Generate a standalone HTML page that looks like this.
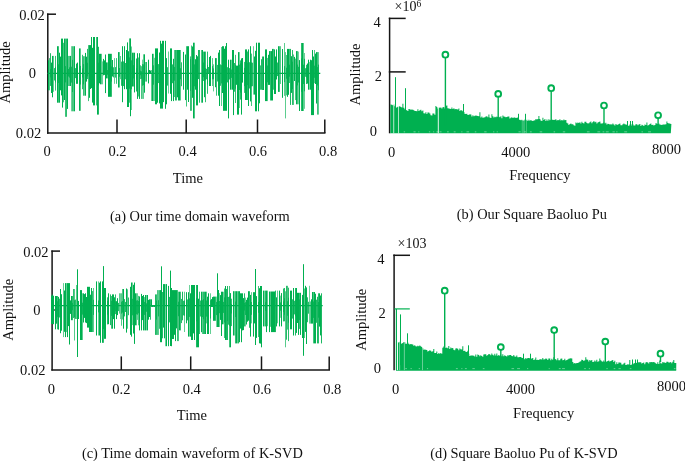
<!DOCTYPE html>
<html><head><meta charset="utf-8"><style>
html,body{margin:0;padding:0;background:#fff;}
svg{display:block;will-change:transform;}
text{font-family:"Liberation Serif",serif;fill:#111;}
</style></head><body>
<svg width="685" height="461" viewBox="0 0 685 461">
<rect width="685" height="461" fill="#fff"/>
<line x1="47.80" y1="13.50" x2="47.80" y2="133.80" stroke="#161616" stroke-width="1.5"/>
<line x1="47.00" y1="14.20" x2="56.00" y2="14.20" stroke="#161616" stroke-width="1.5"/>
<line x1="47.00" y1="133.10" x2="325.50" y2="133.10" stroke="#161616" stroke-width="1.5"/>
<line x1="117.00" y1="119.50" x2="117.00" y2="133.00" stroke="#161616" stroke-width="1.5"/>
<line x1="186.20" y1="119.50" x2="186.20" y2="133.00" stroke="#161616" stroke-width="1.5"/>
<line x1="257.50" y1="119.50" x2="257.50" y2="133.00" stroke="#161616" stroke-width="1.5"/>
<line x1="324.80" y1="119.50" x2="324.80" y2="133.00" stroke="#161616" stroke-width="1.5"/>
<line x1="52.10" y1="250.50" x2="52.10" y2="370.60" stroke="#161616" stroke-width="1.5"/>
<line x1="51.30" y1="251.10" x2="60.00" y2="251.10" stroke="#161616" stroke-width="1.5"/>
<line x1="51.30" y1="370.00" x2="330.00" y2="370.00" stroke="#161616" stroke-width="1.5"/>
<line x1="121.30" y1="356.40" x2="121.30" y2="370.00" stroke="#161616" stroke-width="1.5"/>
<line x1="190.70" y1="356.40" x2="190.70" y2="370.00" stroke="#161616" stroke-width="1.5"/>
<line x1="261.50" y1="356.40" x2="261.50" y2="370.00" stroke="#161616" stroke-width="1.5"/>
<line x1="329.20" y1="356.40" x2="329.20" y2="370.00" stroke="#161616" stroke-width="1.5"/>
<line x1="389.60" y1="17.70" x2="389.60" y2="133.30" stroke="#161616" stroke-width="1.5"/>
<line x1="388.80" y1="18.40" x2="405.70" y2="18.40" stroke="#161616" stroke-width="1.5"/>
<line x1="388.80" y1="71.90" x2="405.70" y2="71.90" stroke="#161616" stroke-width="1.5"/>
<line x1="394.10" y1="254.60" x2="394.10" y2="370.30" stroke="#161616" stroke-width="1.5"/>
<line x1="393.30" y1="255.30" x2="410.00" y2="255.30" stroke="#161616" stroke-width="1.5"/>
<line x1="394.30" y1="308.90" x2="409.80" y2="308.90" stroke="#00b050" stroke-width="1.2"/>
<line x1="396.40" y1="308.90" x2="396.40" y2="370.00" stroke="#00b050" stroke-width="1.2"/>
<line x1="396.00" y1="370.10" x2="676.20" y2="370.10" stroke="#00b050" stroke-width="1.2"/>
<rect x="48" y="60.3" width="1" height="30.0" fill="#00b050" fill-opacity="1.00"/>
<rect x="48" y="67.3" width="1" height="12.7" fill="#00b050" fill-opacity="0.85"/>
<rect x="49" y="58.1" width="1" height="32.2" fill="#00b050" fill-opacity="0.70"/>
<rect x="50" y="53.2" width="1" height="32.7" fill="#00b050" fill-opacity="0.87"/>
<rect x="50" y="69.1" width="1" height="8.3" fill="#00b050" fill-opacity="0.85"/>
<rect x="51" y="62.6" width="1" height="30.4" fill="#00b050" fill-opacity="1.00"/>
<rect x="51" y="69.2" width="1" height="9.3" fill="#00b050" fill-opacity="0.85"/>
<rect x="52" y="55.9" width="1" height="41.4" fill="#00b050" fill-opacity="1.00"/>
<rect x="52" y="67.4" width="1" height="14.0" fill="#00b050" fill-opacity="0.85"/>
<rect x="53" y="55.9" width="1" height="35.9" fill="#00b050" fill-opacity="0.62"/>
<rect x="54" y="68.1" width="1" height="12.4" fill="#00b050" fill-opacity="0.85"/>
<rect x="55" y="55.9" width="1" height="34.7" fill="#00b050" fill-opacity="0.78"/>
<rect x="55" y="66.8" width="1" height="15.6" fill="#00b050" fill-opacity="0.85"/>
<rect x="57" y="46.2" width="1" height="56.5" fill="#00b050" fill-opacity="1.00"/>
<rect x="58" y="46.2" width="1" height="56.5" fill="#00b050" fill-opacity="0.79"/>
<rect x="58" y="64.3" width="1" height="18.7" fill="#00b050" fill-opacity="0.85"/>
<rect x="59" y="52.7" width="1" height="50.0" fill="#00b050" fill-opacity="1.00"/>
<rect x="59" y="67.5" width="1" height="12.0" fill="#00b050" fill-opacity="0.85"/>
<rect x="60" y="56.6" width="1" height="33.7" fill="#00b050" fill-opacity="1.00"/>
<rect x="60" y="62.8" width="1" height="18.9" fill="#00b050" fill-opacity="0.85"/>
<rect x="61" y="38.6" width="1" height="56.8" fill="#00b050" fill-opacity="1.00"/>
<rect x="62" y="38.6" width="1" height="69.0" fill="#00b050" fill-opacity="1.00"/>
<rect x="63" y="42.8" width="1" height="59.5" fill="#00b050" fill-opacity="0.73"/>
<rect x="64" y="38.6" width="1" height="61.4" fill="#00b050" fill-opacity="1.00"/>
<rect x="64" y="61.3" width="1" height="23.8" fill="#00b050" fill-opacity="0.85"/>
<rect x="65" y="38.6" width="1" height="78.2" fill="#00b050" fill-opacity="0.76"/>
<rect x="65" y="66.1" width="1" height="16.3" fill="#00b050" fill-opacity="0.85"/>
<rect x="66" y="38.6" width="1" height="78.2" fill="#00b050" fill-opacity="0.83"/>
<rect x="67" y="38.6" width="1" height="70.3" fill="#00b050" fill-opacity="1.00"/>
<rect x="67" y="66.2" width="1" height="16.0" fill="#00b050" fill-opacity="0.85"/>
<rect x="68" y="55.9" width="1" height="30.1" fill="#00b050" fill-opacity="0.67"/>
<rect x="68" y="69.0" width="1" height="7.5" fill="#00b050" fill-opacity="0.85"/>
<rect x="69" y="55.9" width="1" height="30.1" fill="#00b050" fill-opacity="0.71"/>
<rect x="69" y="67.3" width="1" height="10.3" fill="#00b050" fill-opacity="0.85"/>
<rect x="70" y="55.9" width="1" height="30.1" fill="#00b050" fill-opacity="1.00"/>
<rect x="70" y="65.1" width="1" height="14.1" fill="#00b050" fill-opacity="0.85"/>
<rect x="71" y="46.2" width="1" height="65.1" fill="#00b050" fill-opacity="0.56"/>
<rect x="71" y="66.7" width="1" height="15.9" fill="#00b050" fill-opacity="0.85"/>
<rect x="72" y="46.2" width="1" height="65.1" fill="#00b050" fill-opacity="0.74"/>
<rect x="72" y="59.9" width="1" height="32.1" fill="#00b050" fill-opacity="0.85"/>
<rect x="73" y="46.2" width="1" height="65.1" fill="#00b050" fill-opacity="0.69"/>
<rect x="74" y="46.2" width="1" height="65.1" fill="#00b050" fill-opacity="1.00"/>
<rect x="75" y="68.1" width="1" height="10.0" fill="#00b050" fill-opacity="0.85"/>
<rect x="76" y="63.6" width="1" height="20.2" fill="#00b050" fill-opacity="1.00"/>
<rect x="76" y="68.0" width="1" height="10.2" fill="#00b050" fill-opacity="0.85"/>
<rect x="77" y="62.6" width="1" height="21.2" fill="#00b050" fill-opacity="1.00"/>
<rect x="79" y="48.4" width="1" height="62.4" fill="#00b050" fill-opacity="1.00"/>
<rect x="80" y="48.4" width="1" height="62.4" fill="#00b050" fill-opacity="0.65"/>
<rect x="80" y="65.9" width="1" height="18.6" fill="#00b050" fill-opacity="0.85"/>
<rect x="82" y="54.8" width="1" height="34.4" fill="#00b050" fill-opacity="0.82"/>
<rect x="82" y="68.4" width="1" height="9.1" fill="#00b050" fill-opacity="0.85"/>
<rect x="83" y="56.2" width="1" height="39.5" fill="#00b050" fill-opacity="0.79"/>
<rect x="83" y="64.1" width="1" height="20.3" fill="#00b050" fill-opacity="0.85"/>
<rect x="84" y="56.2" width="1" height="39.5" fill="#00b050" fill-opacity="0.62"/>
<rect x="85" y="52.9" width="1" height="42.8" fill="#00b050" fill-opacity="1.00"/>
<rect x="86" y="56.7" width="1" height="24.9" fill="#00b050" fill-opacity="1.00"/>
<rect x="86" y="69.4" width="1" height="5.6" fill="#00b050" fill-opacity="0.85"/>
<rect x="87" y="48.9" width="1" height="30.1" fill="#00b050" fill-opacity="0.82"/>
<rect x="87" y="62.8" width="1" height="13.6" fill="#00b050" fill-opacity="0.85"/>
<rect x="88" y="45.1" width="1" height="56.0" fill="#00b050" fill-opacity="0.75"/>
<rect x="89" y="45.1" width="1" height="52.7" fill="#00b050" fill-opacity="1.00"/>
<rect x="90" y="45.1" width="1" height="43.9" fill="#00b050" fill-opacity="1.00"/>
<rect x="91" y="37.0" width="1" height="51.1" fill="#00b050" fill-opacity="1.00"/>
<rect x="92" y="47.8" width="1" height="54.8" fill="#00b050" fill-opacity="1.00"/>
<rect x="92" y="60.8" width="1" height="23.5" fill="#00b050" fill-opacity="0.85"/>
<rect x="93" y="37.0" width="1" height="68.4" fill="#00b050" fill-opacity="1.00"/>
<rect x="94" y="37.0" width="1" height="68.4" fill="#00b050" fill-opacity="1.00"/>
<rect x="94" y="56.1" width="1" height="32.4" fill="#00b050" fill-opacity="0.85"/>
<rect x="96" y="37.0" width="1" height="68.4" fill="#00b050" fill-opacity="0.74"/>
<rect x="97" y="37.0" width="1" height="77.6" fill="#00b050" fill-opacity="1.00"/>
<rect x="97" y="65.2" width="1" height="17.4" fill="#00b050" fill-opacity="0.85"/>
<rect x="98" y="46.8" width="1" height="67.8" fill="#00b050" fill-opacity="0.88"/>
<rect x="98" y="62.7" width="1" height="22.7" fill="#00b050" fill-opacity="0.85"/>
<rect x="99" y="53.8" width="1" height="29.5" fill="#00b050" fill-opacity="1.00"/>
<rect x="99" y="66.2" width="1" height="11.1" fill="#00b050" fill-opacity="0.85"/>
<rect x="100" y="53.8" width="1" height="30.5" fill="#00b050" fill-opacity="1.00"/>
<rect x="100" y="69.0" width="1" height="6.8" fill="#00b050" fill-opacity="0.85"/>
<rect x="101" y="53.8" width="1" height="30.5" fill="#00b050" fill-opacity="0.65"/>
<rect x="102" y="61.4" width="1" height="22.9" fill="#00b050" fill-opacity="0.58"/>
<rect x="103" y="58.9" width="1" height="16.4" fill="#00b050" fill-opacity="1.00"/>
<rect x="103" y="66.0" width="1" height="8.7" fill="#00b050" fill-opacity="0.85"/>
<rect x="104" y="60.4" width="1" height="14.5" fill="#00b050" fill-opacity="1.00"/>
<rect x="105" y="54.5" width="1" height="38.6" fill="#00b050" fill-opacity="1.00"/>
<rect x="105" y="68.1" width="1" height="11.2" fill="#00b050" fill-opacity="0.85"/>
<rect x="106" y="62.4" width="1" height="16.0" fill="#00b050" fill-opacity="1.00"/>
<rect x="107" y="62.4" width="1" height="16.0" fill="#00b050" fill-opacity="0.71"/>
<rect x="107" y="70.0" width="1" height="4.8" fill="#00b050" fill-opacity="0.85"/>
<rect x="108" y="53.8" width="1" height="43.0" fill="#00b050" fill-opacity="1.00"/>
<rect x="109" y="53.8" width="1" height="43.0" fill="#00b050" fill-opacity="1.00"/>
<rect x="109" y="64.6" width="1" height="19.3" fill="#00b050" fill-opacity="0.85"/>
<rect x="110" y="53.8" width="1" height="43.0" fill="#00b050" fill-opacity="1.00"/>
<rect x="110" y="66.3" width="1" height="15.4" fill="#00b050" fill-opacity="0.85"/>
<rect x="111" y="53.8" width="1" height="43.0" fill="#00b050" fill-opacity="0.81"/>
<rect x="111" y="66.5" width="1" height="15.0" fill="#00b050" fill-opacity="0.85"/>
<rect x="112" y="60.0" width="1" height="16.5" fill="#00b050" fill-opacity="1.00"/>
<rect x="113" y="67.3" width="1" height="10.1" fill="#00b050" fill-opacity="0.85"/>
<rect x="114" y="58.1" width="1" height="25.7" fill="#00b050" fill-opacity="0.61"/>
<rect x="115" y="67.1" width="1" height="10.5" fill="#00b050" fill-opacity="0.85"/>
<rect x="116" y="58.1" width="1" height="25.7" fill="#00b050" fill-opacity="0.76"/>
<rect x="118" y="52.1" width="1" height="35.4" fill="#00b050" fill-opacity="1.00"/>
<rect x="119" y="52.1" width="1" height="35.4" fill="#00b050" fill-opacity="0.67"/>
<rect x="119" y="68.0" width="1" height="8.8" fill="#00b050" fill-opacity="0.85"/>
<rect x="120" y="56.0" width="1" height="23.2" fill="#00b050" fill-opacity="0.64"/>
<rect x="121" y="61.6" width="1" height="24.2" fill="#00b050" fill-opacity="0.85"/>
<rect x="122" y="46.2" width="1" height="56.0" fill="#00b050" fill-opacity="1.00"/>
<rect x="123" y="61.4" width="1" height="24.7" fill="#00b050" fill-opacity="0.85"/>
<rect x="124" y="46.2" width="1" height="43.0" fill="#00b050" fill-opacity="1.00"/>
<rect x="125" y="63.0" width="1" height="16.3" fill="#00b050" fill-opacity="0.85"/>
<rect x="126" y="50.0" width="1" height="39.2" fill="#00b050" fill-opacity="1.00"/>
<rect x="127" y="42.4" width="1" height="64.6" fill="#00b050" fill-opacity="1.00"/>
<rect x="128" y="51.2" width="1" height="55.8" fill="#00b050" fill-opacity="1.00"/>
<rect x="128" y="60.2" width="1" height="25.8" fill="#00b050" fill-opacity="0.85"/>
<rect x="129" y="38.4" width="1" height="64.3" fill="#00b050" fill-opacity="0.74"/>
<rect x="129" y="57.4" width="1" height="31.3" fill="#00b050" fill-opacity="0.85"/>
<rect x="130" y="38.4" width="1" height="77.8" fill="#00b050" fill-opacity="1.00"/>
<rect x="130" y="57.9" width="1" height="34.4" fill="#00b050" fill-opacity="0.85"/>
<rect x="131" y="46.5" width="1" height="63.5" fill="#00b050" fill-opacity="0.60"/>
<rect x="131" y="60.3" width="1" height="28.9" fill="#00b050" fill-opacity="0.85"/>
<rect x="132" y="52.7" width="1" height="33.8" fill="#00b050" fill-opacity="1.00"/>
<rect x="132" y="66.4" width="1" height="11.2" fill="#00b050" fill-opacity="0.85"/>
<rect x="133" y="52.7" width="1" height="33.8" fill="#00b050" fill-opacity="0.79"/>
<rect x="133" y="65.2" width="1" height="13.3" fill="#00b050" fill-opacity="0.85"/>
<rect x="134" y="52.7" width="1" height="39.7" fill="#00b050" fill-opacity="1.00"/>
<rect x="136" y="58.5" width="1" height="33.0" fill="#00b050" fill-opacity="0.90"/>
<rect x="136" y="68.3" width="1" height="11.5" fill="#00b050" fill-opacity="0.85"/>
<rect x="137" y="53.2" width="1" height="45.7" fill="#00b050" fill-opacity="1.00"/>
<rect x="137" y="66.7" width="1" height="15.0" fill="#00b050" fill-opacity="0.85"/>
<rect x="138" y="57.5" width="1" height="39.0" fill="#00b050" fill-opacity="0.72"/>
<rect x="139" y="53.2" width="1" height="45.7" fill="#00b050" fill-opacity="1.00"/>
<rect x="140" y="65.3" width="1" height="13.8" fill="#00b050" fill-opacity="0.76"/>
<rect x="140" y="70.7" width="1" height="4.5" fill="#00b050" fill-opacity="0.85"/>
<rect x="141" y="66.2" width="1" height="32.7" fill="#00b050" fill-opacity="0.72"/>
<rect x="141" y="71.3" width="1" height="7.5" fill="#00b050" fill-opacity="0.85"/>
<rect x="142" y="59.6" width="1" height="39.3" fill="#00b050" fill-opacity="0.56"/>
<rect x="142" y="64.1" width="1" height="21.6" fill="#00b050" fill-opacity="0.85"/>
<rect x="143" y="54.3" width="1" height="44.6" fill="#00b050" fill-opacity="0.62"/>
<rect x="143" y="64.4" width="1" height="20.8" fill="#00b050" fill-opacity="0.85"/>
<rect x="144" y="54.3" width="1" height="38.4" fill="#00b050" fill-opacity="1.00"/>
<rect x="144" y="65.3" width="1" height="18.8" fill="#00b050" fill-opacity="0.85"/>
<rect x="145" y="62.0" width="1" height="19.6" fill="#00b050" fill-opacity="0.64"/>
<rect x="146" y="62.0" width="1" height="19.6" fill="#00b050" fill-opacity="0.85"/>
<rect x="146" y="70.3" width="1" height="5.2" fill="#00b050" fill-opacity="0.85"/>
<rect x="148" y="59.7" width="1" height="23.7" fill="#00b050" fill-opacity="1.00"/>
<rect x="148" y="67.5" width="1" height="11.3" fill="#00b050" fill-opacity="0.85"/>
<rect x="149" y="70.0" width="1" height="4.0" fill="#00b050" fill-opacity="1.00"/>
<rect x="150" y="70.5" width="1" height="3.5" fill="#00b050" fill-opacity="1.00"/>
<rect x="150" y="72.5" width="1" height="1.0" fill="#00b050" fill-opacity="0.85"/>
<rect x="151" y="70.0" width="1" height="31.0" fill="#00b050" fill-opacity="0.63"/>
<rect x="152" y="53.8" width="1" height="47.2" fill="#00b050" fill-opacity="1.00"/>
<rect x="152" y="68.8" width="1" height="10.9" fill="#00b050" fill-opacity="0.85"/>
<rect x="153" y="53.8" width="1" height="47.2" fill="#00b050" fill-opacity="0.63"/>
<rect x="153" y="65.3" width="1" height="19.4" fill="#00b050" fill-opacity="0.85"/>
<rect x="154" y="57.8" width="1" height="43.2" fill="#00b050" fill-opacity="0.59"/>
<rect x="155" y="48.4" width="1" height="55.9" fill="#00b050" fill-opacity="1.00"/>
<rect x="155" y="66.6" width="1" height="15.1" fill="#00b050" fill-opacity="0.85"/>
<rect x="156" y="48.4" width="1" height="55.9" fill="#00b050" fill-opacity="1.00"/>
<rect x="157" y="48.4" width="1" height="54.3" fill="#00b050" fill-opacity="1.00"/>
<rect x="158" y="64.1" width="1" height="19.0" fill="#00b050" fill-opacity="0.85"/>
<rect x="159" y="52.5" width="1" height="50.9" fill="#00b050" fill-opacity="1.00"/>
<rect x="160" y="40.8" width="1" height="67.8" fill="#00b050" fill-opacity="1.00"/>
<rect x="160" y="65.5" width="1" height="16.2" fill="#00b050" fill-opacity="0.85"/>
<rect x="161" y="43.6" width="1" height="65.0" fill="#00b050" fill-opacity="1.00"/>
<rect x="162" y="40.8" width="1" height="67.8" fill="#00b050" fill-opacity="1.00"/>
<rect x="162" y="60.6" width="1" height="26.5" fill="#00b050" fill-opacity="0.85"/>
<rect x="163" y="40.8" width="1" height="61.3" fill="#00b050" fill-opacity="1.00"/>
<rect x="165" y="40.8" width="1" height="68.0" fill="#00b050" fill-opacity="1.00"/>
<rect x="166" y="58.1" width="1" height="46.2" fill="#00b050" fill-opacity="1.00"/>
<rect x="166" y="69.4" width="1" height="12.0" fill="#00b050" fill-opacity="0.85"/>
<rect x="167" y="67.2" width="1" height="18.4" fill="#00b050" fill-opacity="0.85"/>
<rect x="168" y="51.5" width="1" height="42.0" fill="#00b050" fill-opacity="0.60"/>
<rect x="170" y="48.4" width="1" height="45.4" fill="#00b050" fill-opacity="1.00"/>
<rect x="171" y="48.4" width="1" height="52.7" fill="#00b050" fill-opacity="1.00"/>
<rect x="171" y="63.0" width="1" height="21.7" fill="#00b050" fill-opacity="0.85"/>
<rect x="172" y="64.4" width="1" height="18.8" fill="#00b050" fill-opacity="0.85"/>
<rect x="173" y="58.8" width="1" height="42.3" fill="#00b050" fill-opacity="1.00"/>
<rect x="174" y="50.0" width="1" height="47.0" fill="#00b050" fill-opacity="0.66"/>
<rect x="174" y="66.9" width="1" height="13.8" fill="#00b050" fill-opacity="0.85"/>
<rect x="175" y="50.0" width="1" height="50.5" fill="#00b050" fill-opacity="0.88"/>
<rect x="176" y="50.0" width="1" height="50.5" fill="#00b050" fill-opacity="0.80"/>
<rect x="177" y="50.0" width="1" height="47.3" fill="#00b050" fill-opacity="1.00"/>
<rect x="177" y="66.1" width="1" height="15.7" fill="#00b050" fill-opacity="0.85"/>
<rect x="178" y="50.0" width="1" height="50.5" fill="#00b050" fill-opacity="1.00"/>
<rect x="178" y="62.9" width="1" height="22.4" fill="#00b050" fill-opacity="0.85"/>
<rect x="179" y="50.0" width="1" height="50.5" fill="#00b050" fill-opacity="1.00"/>
<rect x="179" y="63.4" width="1" height="21.4" fill="#00b050" fill-opacity="0.85"/>
<rect x="180" y="50.0" width="1" height="50.5" fill="#00b050" fill-opacity="0.66"/>
<rect x="180" y="68.2" width="1" height="11.1" fill="#00b050" fill-opacity="0.85"/>
<rect x="181" y="62.3" width="1" height="23.9" fill="#00b050" fill-opacity="0.85"/>
<rect x="183" y="51.9" width="1" height="37.8" fill="#00b050" fill-opacity="1.00"/>
<rect x="185" y="54.5" width="1" height="45.6" fill="#00b050" fill-opacity="1.00"/>
<rect x="185" y="59.9" width="1" height="29.8" fill="#00b050" fill-opacity="0.85"/>
<rect x="186" y="46.2" width="1" height="60.3" fill="#00b050" fill-opacity="0.75"/>
<rect x="187" y="46.2" width="1" height="43.5" fill="#00b050" fill-opacity="1.00"/>
<rect x="187" y="65.7" width="1" height="15.6" fill="#00b050" fill-opacity="0.85"/>
<rect x="188" y="46.2" width="1" height="55.8" fill="#00b050" fill-opacity="1.00"/>
<rect x="188" y="67.3" width="1" height="12.4" fill="#00b050" fill-opacity="0.85"/>
<rect x="190" y="56.4" width="1" height="54.4" fill="#00b050" fill-opacity="0.80"/>
<rect x="190" y="59.1" width="1" height="31.7" fill="#00b050" fill-opacity="0.85"/>
<rect x="191" y="45.5" width="1" height="65.3" fill="#00b050" fill-opacity="0.74"/>
<rect x="192" y="46.5" width="1" height="51.3" fill="#00b050" fill-opacity="1.00"/>
<rect x="193" y="42.7" width="1" height="75.7" fill="#00b050" fill-opacity="1.00"/>
<rect x="194" y="42.7" width="1" height="75.7" fill="#00b050" fill-opacity="0.71"/>
<rect x="194" y="64.4" width="1" height="21.9" fill="#00b050" fill-opacity="0.85"/>
<rect x="195" y="59.2" width="1" height="30.5" fill="#00b050" fill-opacity="1.00"/>
<rect x="196" y="55.0" width="1" height="50.4" fill="#00b050" fill-opacity="1.00"/>
<rect x="196" y="64.6" width="1" height="20.3" fill="#00b050" fill-opacity="0.85"/>
<rect x="197" y="56.3" width="1" height="49.1" fill="#00b050" fill-opacity="1.00"/>
<rect x="197" y="64.9" width="1" height="19.7" fill="#00b050" fill-opacity="0.85"/>
<rect x="198" y="50.0" width="1" height="29.1" fill="#00b050" fill-opacity="0.90"/>
<rect x="199" y="50.0" width="1" height="52.7" fill="#00b050" fill-opacity="0.86"/>
<rect x="201" y="50.0" width="1" height="52.7" fill="#00b050" fill-opacity="0.68"/>
<rect x="202" y="50.0" width="1" height="52.7" fill="#00b050" fill-opacity="1.00"/>
<rect x="202" y="65.7" width="1" height="17.1" fill="#00b050" fill-opacity="0.85"/>
<rect x="203" y="51.6" width="1" height="29.4" fill="#00b050" fill-opacity="0.76"/>
<rect x="203" y="62.5" width="1" height="14.7" fill="#00b050" fill-opacity="0.85"/>
<rect x="204" y="51.6" width="1" height="45.6" fill="#00b050" fill-opacity="1.00"/>
<rect x="205" y="51.6" width="1" height="50.6" fill="#00b050" fill-opacity="0.80"/>
<rect x="205" y="68.1" width="1" height="12.1" fill="#00b050" fill-opacity="0.85"/>
<rect x="206" y="68.8" width="1" height="10.5" fill="#00b050" fill-opacity="0.85"/>
<rect x="207" y="51.6" width="1" height="42.2" fill="#00b050" fill-opacity="0.84"/>
<rect x="207" y="65.0" width="1" height="19.4" fill="#00b050" fill-opacity="0.85"/>
<rect x="208" y="67.0" width="1" height="6.5" fill="#00b050" fill-opacity="0.85"/>
<rect x="209" y="57.0" width="1" height="29.0" fill="#00b050" fill-opacity="1.00"/>
<rect x="209" y="66.3" width="1" height="12.1" fill="#00b050" fill-opacity="0.85"/>
<rect x="210" y="55.9" width="1" height="30.1" fill="#00b050" fill-opacity="1.00"/>
<rect x="212" y="58.1" width="1" height="27.9" fill="#00b050" fill-opacity="0.65"/>
<rect x="212" y="66.1" width="1" height="13.2" fill="#00b050" fill-opacity="0.85"/>
<rect x="213" y="64.3" width="1" height="27.1" fill="#00b050" fill-opacity="0.62"/>
<rect x="213" y="68.4" width="1" height="10.8" fill="#00b050" fill-opacity="0.85"/>
<rect x="215" y="58.1" width="1" height="29.1" fill="#00b050" fill-opacity="1.00"/>
<rect x="216" y="58.1" width="1" height="37.6" fill="#00b050" fill-opacity="0.78"/>
<rect x="217" y="64.9" width="1" height="16.6" fill="#00b050" fill-opacity="0.85"/>
<rect x="218" y="52.6" width="1" height="43.1" fill="#00b050" fill-opacity="1.00"/>
<rect x="219" y="50.0" width="1" height="56.0" fill="#00b050" fill-opacity="1.00"/>
<rect x="220" y="64.4" width="1" height="21.4" fill="#00b050" fill-opacity="0.85"/>
<rect x="221" y="47.0" width="1" height="59.0" fill="#00b050" fill-opacity="0.64"/>
<rect x="221" y="65.1" width="1" height="18.3" fill="#00b050" fill-opacity="0.85"/>
<rect x="222" y="46.2" width="1" height="46.8" fill="#00b050" fill-opacity="1.00"/>
<rect x="223" y="46.2" width="1" height="64.6" fill="#00b050" fill-opacity="1.00"/>
<rect x="224" y="48.7" width="1" height="62.1" fill="#00b050" fill-opacity="1.00"/>
<rect x="224" y="66.8" width="1" height="15.4" fill="#00b050" fill-opacity="0.85"/>
<rect x="225" y="46.2" width="1" height="64.6" fill="#00b050" fill-opacity="1.00"/>
<rect x="226" y="43.0" width="1" height="67.8" fill="#00b050" fill-opacity="1.00"/>
<rect x="227" y="67.2" width="1" height="15.2" fill="#00b050" fill-opacity="0.85"/>
<rect x="228" y="59.7" width="1" height="58.7" fill="#00b050" fill-opacity="1.00"/>
<rect x="228" y="67.8" width="1" height="23.7" fill="#00b050" fill-opacity="0.85"/>
<rect x="229" y="68.1" width="1" height="11.4" fill="#00b050" fill-opacity="0.85"/>
<rect x="230" y="59.7" width="1" height="30.0" fill="#00b050" fill-opacity="1.00"/>
<rect x="230" y="67.4" width="1" height="12.9" fill="#00b050" fill-opacity="0.85"/>
<rect x="231" y="59.7" width="1" height="30.0" fill="#00b050" fill-opacity="0.59"/>
<rect x="231" y="69.5" width="1" height="8.4" fill="#00b050" fill-opacity="0.85"/>
<rect x="232" y="50.0" width="1" height="39.7" fill="#00b050" fill-opacity="1.00"/>
<rect x="233" y="50.0" width="1" height="65.1" fill="#00b050" fill-opacity="1.00"/>
<rect x="233" y="66.4" width="1" height="19.3" fill="#00b050" fill-opacity="0.85"/>
<rect x="234" y="63.0" width="1" height="28.7" fill="#00b050" fill-opacity="0.85"/>
<rect x="235" y="54.8" width="1" height="48.2" fill="#00b050" fill-opacity="0.77"/>
<rect x="235" y="64.7" width="1" height="24.0" fill="#00b050" fill-opacity="0.85"/>
<rect x="236" y="65.6" width="1" height="19.2" fill="#00b050" fill-opacity="1.00"/>
<rect x="236" y="70.6" width="1" height="7.8" fill="#00b050" fill-opacity="0.85"/>
<rect x="237" y="65.6" width="1" height="49.0" fill="#00b050" fill-opacity="1.00"/>
<rect x="237" y="71.1" width="1" height="13.8" fill="#00b050" fill-opacity="0.85"/>
<rect x="238" y="52.1" width="1" height="62.5" fill="#00b050" fill-opacity="1.00"/>
<rect x="238" y="64.9" width="1" height="24.8" fill="#00b050" fill-opacity="0.85"/>
<rect x="239" y="52.1" width="1" height="55.9" fill="#00b050" fill-opacity="0.56"/>
<rect x="239" y="64.7" width="1" height="25.3" fill="#00b050" fill-opacity="0.85"/>
<rect x="240" y="60.4" width="1" height="39.2" fill="#00b050" fill-opacity="0.85"/>
<rect x="240" y="63.4" width="1" height="29.2" fill="#00b050" fill-opacity="0.85"/>
<rect x="241" y="58.4" width="1" height="56.2" fill="#00b050" fill-opacity="1.00"/>
<rect x="242" y="58.0" width="1" height="24.6" fill="#00b050" fill-opacity="1.00"/>
<rect x="244" y="61.9" width="1" height="31.0" fill="#00b050" fill-opacity="0.76"/>
<rect x="244" y="67.8" width="1" height="18.3" fill="#00b050" fill-opacity="0.85"/>
<rect x="245" y="49.4" width="1" height="50.6" fill="#00b050" fill-opacity="1.00"/>
<rect x="245" y="63.5" width="1" height="20.8" fill="#00b050" fill-opacity="0.85"/>
<rect x="246" y="49.4" width="1" height="50.6" fill="#00b050" fill-opacity="1.00"/>
<rect x="246" y="66.0" width="1" height="15.5" fill="#00b050" fill-opacity="0.85"/>
<rect x="247" y="51.5" width="1" height="48.5" fill="#00b050" fill-opacity="0.84"/>
<rect x="247" y="62.7" width="1" height="22.4" fill="#00b050" fill-opacity="0.85"/>
<rect x="248" y="49.4" width="1" height="56.6" fill="#00b050" fill-opacity="1.00"/>
<rect x="249" y="62.2" width="1" height="26.3" fill="#00b050" fill-opacity="0.85"/>
<rect x="250" y="46.2" width="1" height="55.2" fill="#00b050" fill-opacity="1.00"/>
<rect x="250" y="64.8" width="1" height="18.7" fill="#00b050" fill-opacity="0.85"/>
<rect x="251" y="53.6" width="1" height="52.4" fill="#00b050" fill-opacity="0.73"/>
<rect x="251" y="62.4" width="1" height="24.0" fill="#00b050" fill-opacity="0.85"/>
<rect x="252" y="62.7" width="1" height="23.5" fill="#00b050" fill-opacity="0.85"/>
<rect x="253" y="46.2" width="1" height="48.4" fill="#00b050" fill-opacity="0.56"/>
<rect x="254" y="56.5" width="1" height="38.1" fill="#00b050" fill-opacity="1.00"/>
<rect x="254" y="60.0" width="1" height="23.8" fill="#00b050" fill-opacity="0.85"/>
<rect x="255" y="50.8" width="1" height="60.5" fill="#00b050" fill-opacity="1.00"/>
<rect x="256" y="42.7" width="1" height="68.6" fill="#00b050" fill-opacity="1.00"/>
<rect x="258" y="42.7" width="1" height="68.6" fill="#00b050" fill-opacity="1.00"/>
<rect x="258" y="65.5" width="1" height="17.5" fill="#00b050" fill-opacity="0.85"/>
<rect x="259" y="42.7" width="1" height="60.6" fill="#00b050" fill-opacity="1.00"/>
<rect x="260" y="65.4" width="1" height="24.3" fill="#00b050" fill-opacity="0.81"/>
<rect x="261" y="59.2" width="1" height="30.5" fill="#00b050" fill-opacity="0.89"/>
<rect x="262" y="56.5" width="1" height="33.5" fill="#00b050" fill-opacity="0.88"/>
<rect x="263" y="56.5" width="1" height="33.5" fill="#00b050" fill-opacity="1.00"/>
<rect x="265" y="49.4" width="1" height="51.7" fill="#00b050" fill-opacity="1.00"/>
<rect x="265" y="62.9" width="1" height="22.4" fill="#00b050" fill-opacity="0.85"/>
<rect x="266" y="49.4" width="1" height="51.7" fill="#00b050" fill-opacity="1.00"/>
<rect x="267" y="57.9" width="1" height="43.2" fill="#00b050" fill-opacity="0.66"/>
<rect x="267" y="65.5" width="1" height="16.8" fill="#00b050" fill-opacity="0.85"/>
<rect x="268" y="54.8" width="1" height="30.1" fill="#00b050" fill-opacity="1.00"/>
<rect x="268" y="65.5" width="1" height="11.8" fill="#00b050" fill-opacity="0.85"/>
<rect x="269" y="51.1" width="1" height="33.8" fill="#00b050" fill-opacity="1.00"/>
<rect x="269" y="63.4" width="1" height="15.0" fill="#00b050" fill-opacity="0.85"/>
<rect x="270" y="51.1" width="1" height="49.4" fill="#00b050" fill-opacity="0.82"/>
<rect x="271" y="51.1" width="1" height="49.4" fill="#00b050" fill-opacity="1.00"/>
<rect x="271" y="67.0" width="1" height="14.0" fill="#00b050" fill-opacity="0.85"/>
<rect x="272" y="48.9" width="1" height="51.6" fill="#00b050" fill-opacity="1.00"/>
<rect x="272" y="62.6" width="1" height="22.7" fill="#00b050" fill-opacity="0.85"/>
<rect x="273" y="48.9" width="1" height="40.8" fill="#00b050" fill-opacity="0.75"/>
<rect x="274" y="49.4" width="1" height="44.6" fill="#00b050" fill-opacity="1.00"/>
<rect x="275" y="56.5" width="1" height="37.5" fill="#00b050" fill-opacity="1.00"/>
<rect x="275" y="64.7" width="1" height="16.1" fill="#00b050" fill-opacity="0.85"/>
<rect x="276" y="49.4" width="1" height="30.1" fill="#00b050" fill-opacity="1.00"/>
<rect x="277" y="62.5" width="1" height="13.6" fill="#00b050" fill-opacity="0.85"/>
<rect x="278" y="46.2" width="1" height="45.7" fill="#00b050" fill-opacity="1.00"/>
<rect x="278" y="61.2" width="1" height="20.5" fill="#00b050" fill-opacity="0.85"/>
<rect x="279" y="46.2" width="1" height="45.7" fill="#00b050" fill-opacity="0.76"/>
<rect x="280" y="46.2" width="1" height="37.8" fill="#00b050" fill-opacity="0.66"/>
<rect x="282" y="49.0" width="1" height="48.8" fill="#00b050" fill-opacity="1.00"/>
<rect x="282" y="66.1" width="1" height="13.0" fill="#00b050" fill-opacity="0.85"/>
<rect x="284" y="43.0" width="1" height="52.9" fill="#00b050" fill-opacity="0.64"/>
<rect x="284" y="66.1" width="1" height="16.0" fill="#00b050" fill-opacity="0.85"/>
<rect x="285" y="52.1" width="1" height="66.3" fill="#00b050" fill-opacity="0.64"/>
<rect x="286" y="55.0" width="1" height="40.3" fill="#00b050" fill-opacity="0.70"/>
<rect x="286" y="67.7" width="1" height="11.0" fill="#00b050" fill-opacity="0.85"/>
<rect x="287" y="48.9" width="1" height="47.9" fill="#00b050" fill-opacity="1.00"/>
<rect x="287" y="66.9" width="1" height="12.7" fill="#00b050" fill-opacity="0.85"/>
<rect x="288" y="48.9" width="1" height="45.9" fill="#00b050" fill-opacity="1.00"/>
<rect x="289" y="48.9" width="1" height="34.1" fill="#00b050" fill-opacity="0.76"/>
<rect x="289" y="64.7" width="1" height="12.0" fill="#00b050" fill-opacity="0.85"/>
<rect x="290" y="48.9" width="1" height="56.0" fill="#00b050" fill-opacity="0.89"/>
<rect x="291" y="56.2" width="1" height="36.7" fill="#00b050" fill-opacity="1.00"/>
<rect x="292" y="50.0" width="1" height="54.9" fill="#00b050" fill-opacity="0.84"/>
<rect x="292" y="61.7" width="1" height="27.3" fill="#00b050" fill-opacity="0.85"/>
<rect x="293" y="54.5" width="1" height="50.4" fill="#00b050" fill-opacity="0.71"/>
<rect x="294" y="56.9" width="1" height="24.1" fill="#00b050" fill-opacity="1.00"/>
<rect x="294" y="67.9" width="1" height="7.3" fill="#00b050" fill-opacity="0.85"/>
<rect x="295" y="58.6" width="1" height="41.5" fill="#00b050" fill-opacity="0.70"/>
<rect x="296" y="51.1" width="1" height="53.2" fill="#00b050" fill-opacity="1.00"/>
<rect x="296" y="62.9" width="1" height="25.0" fill="#00b050" fill-opacity="0.85"/>
<rect x="297" y="51.1" width="1" height="53.2" fill="#00b050" fill-opacity="0.75"/>
<rect x="297" y="64.6" width="1" height="20.8" fill="#00b050" fill-opacity="0.85"/>
<rect x="298" y="51.6" width="1" height="52.7" fill="#00b050" fill-opacity="0.55"/>
<rect x="298" y="66.8" width="1" height="15.7" fill="#00b050" fill-opacity="0.85"/>
<rect x="299" y="60.1" width="1" height="50.9" fill="#00b050" fill-opacity="1.00"/>
<rect x="299" y="63.6" width="1" height="26.5" fill="#00b050" fill-opacity="0.85"/>
<rect x="301" y="43.0" width="1" height="68.0" fill="#00b050" fill-opacity="0.84"/>
<rect x="301" y="58.4" width="1" height="33.4" fill="#00b050" fill-opacity="0.85"/>
<rect x="302" y="43.0" width="1" height="68.0" fill="#00b050" fill-opacity="1.00"/>
<rect x="302" y="58.7" width="1" height="32.7" fill="#00b050" fill-opacity="0.85"/>
<rect x="303" y="43.0" width="1" height="68.0" fill="#00b050" fill-opacity="0.64"/>
<rect x="303" y="64.7" width="1" height="19.3" fill="#00b050" fill-opacity="0.85"/>
<rect x="304" y="53.0" width="1" height="55.8" fill="#00b050" fill-opacity="0.58"/>
<rect x="304" y="58.8" width="1" height="32.5" fill="#00b050" fill-opacity="0.85"/>
<rect x="305" y="68.2" width="1" height="8.6" fill="#00b050" fill-opacity="0.85"/>
<rect x="306" y="64.8" width="1" height="19.2" fill="#00b050" fill-opacity="0.86"/>
<rect x="306" y="67.6" width="1" height="9.8" fill="#00b050" fill-opacity="0.85"/>
<rect x="307" y="63.5" width="1" height="20.1" fill="#00b050" fill-opacity="1.00"/>
<rect x="307" y="68.2" width="1" height="11.3" fill="#00b050" fill-opacity="0.85"/>
<rect x="308" y="59.7" width="1" height="30.0" fill="#00b050" fill-opacity="1.00"/>
<rect x="309" y="61.9" width="1" height="27.8" fill="#00b050" fill-opacity="0.55"/>
<rect x="310" y="59.7" width="1" height="30.0" fill="#00b050" fill-opacity="1.00"/>
<rect x="311" y="60.2" width="1" height="54.9" fill="#00b050" fill-opacity="1.00"/>
<rect x="311" y="65.2" width="1" height="22.6" fill="#00b050" fill-opacity="0.85"/>
<rect x="312" y="50.0" width="1" height="65.1" fill="#00b050" fill-opacity="1.00"/>
<rect x="312" y="63.9" width="1" height="26.4" fill="#00b050" fill-opacity="0.85"/>
<rect x="313" y="56.5" width="1" height="58.6" fill="#00b050" fill-opacity="1.00"/>
<rect x="313" y="67.9" width="1" height="15.1" fill="#00b050" fill-opacity="0.85"/>
<rect x="314" y="50.0" width="1" height="33.2" fill="#00b050" fill-opacity="0.67"/>
<rect x="314" y="65.7" width="1" height="12.1" fill="#00b050" fill-opacity="0.85"/>
<rect x="315" y="53.6" width="1" height="30.4" fill="#00b050" fill-opacity="1.00"/>
<rect x="315" y="66.0" width="1" height="12.0" fill="#00b050" fill-opacity="0.85"/>
<rect x="316" y="52.1" width="1" height="51.4" fill="#00b050" fill-opacity="1.00"/>
<rect x="317" y="52.1" width="1" height="62.5" fill="#00b050" fill-opacity="0.76"/>
<rect x="317" y="67.1" width="1" height="18.3" fill="#00b050" fill-opacity="0.85"/>
<rect x="318" y="52.1" width="1" height="62.5" fill="#00b050" fill-opacity="0.63"/>
<rect x="318" y="64.6" width="1" height="25.6" fill="#00b050" fill-opacity="0.85"/>
<line x1="47.50" y1="73.30" x2="320.30" y2="73.30" stroke="#00b050" stroke-width="1.2"/>
<line x1="52.00" y1="310.00" x2="59.00" y2="310.00" stroke="#161616" stroke-width="1.2"/>
<rect x="52" y="294.4" width="1" height="27.0" fill="#00b050" fill-opacity="0.66"/>
<rect x="53" y="296.0" width="1" height="28.2" fill="#00b050" fill-opacity="1.00"/>
<rect x="53" y="301.8" width="1" height="11.8" fill="#00b050" fill-opacity="0.85"/>
<rect x="55" y="296.0" width="1" height="33.3" fill="#00b050" fill-opacity="1.00"/>
<rect x="55" y="302.5" width="1" height="11.3" fill="#00b050" fill-opacity="0.85"/>
<rect x="56" y="296.0" width="1" height="27.7" fill="#00b050" fill-opacity="1.00"/>
<rect x="56" y="303.8" width="1" height="6.9" fill="#00b050" fill-opacity="0.85"/>
<rect x="57" y="296.0" width="1" height="33.3" fill="#00b050" fill-opacity="0.79"/>
<rect x="57" y="301.3" width="1" height="15.6" fill="#00b050" fill-opacity="0.85"/>
<rect x="58" y="296.9" width="1" height="32.7" fill="#00b050" fill-opacity="1.00"/>
<rect x="59" y="298.7" width="1" height="18.8" fill="#00b050" fill-opacity="0.85"/>
<rect x="60" y="289.0" width="1" height="44.2" fill="#00b050" fill-opacity="1.00"/>
<rect x="61" y="294.2" width="1" height="36.5" fill="#00b050" fill-opacity="1.00"/>
<rect x="63" y="283.1" width="1" height="54.0" fill="#00b050" fill-opacity="0.61"/>
<rect x="64" y="290.5" width="1" height="41.3" fill="#00b050" fill-opacity="1.00"/>
<rect x="64" y="296.9" width="1" height="21.4" fill="#00b050" fill-opacity="0.85"/>
<rect x="65" y="283.1" width="1" height="54.0" fill="#00b050" fill-opacity="1.00"/>
<rect x="66" y="283.1" width="1" height="49.0" fill="#00b050" fill-opacity="0.62"/>
<rect x="67" y="283.1" width="1" height="54.0" fill="#00b050" fill-opacity="1.00"/>
<rect x="68" y="283.1" width="1" height="43.0" fill="#00b050" fill-opacity="1.00"/>
<rect x="69" y="283.1" width="1" height="61.4" fill="#00b050" fill-opacity="1.00"/>
<rect x="69" y="296.7" width="1" height="24.7" fill="#00b050" fill-opacity="0.85"/>
<rect x="70" y="300.4" width="1" height="13.5" fill="#00b050" fill-opacity="1.00"/>
<rect x="71" y="296.0" width="1" height="24.2" fill="#00b050" fill-opacity="1.00"/>
<rect x="71" y="301.0" width="1" height="12.0" fill="#00b050" fill-opacity="0.85"/>
<rect x="72" y="296.0" width="1" height="24.2" fill="#00b050" fill-opacity="0.81"/>
<rect x="72" y="302.9" width="1" height="7.3" fill="#00b050" fill-opacity="0.85"/>
<rect x="73" y="289.0" width="1" height="29.0" fill="#00b050" fill-opacity="0.81"/>
<rect x="74" y="289.0" width="1" height="51.5" fill="#00b050" fill-opacity="0.66"/>
<rect x="74" y="300.2" width="1" height="17.2" fill="#00b050" fill-opacity="0.85"/>
<rect x="75" y="299.6" width="1" height="19.3" fill="#00b050" fill-opacity="0.85"/>
<rect x="76" y="285.0" width="1" height="34.0" fill="#00b050" fill-opacity="0.64"/>
<rect x="77" y="285.0" width="1" height="34.0" fill="#00b050" fill-opacity="1.00"/>
<rect x="77" y="301.5" width="1" height="7.1" fill="#00b050" fill-opacity="0.85"/>
<rect x="78" y="300.9" width="1" height="18.1" fill="#00b050" fill-opacity="1.00"/>
<rect x="80" y="290.1" width="1" height="49.9" fill="#00b050" fill-opacity="1.00"/>
<rect x="81" y="290.1" width="1" height="49.9" fill="#00b050" fill-opacity="1.00"/>
<rect x="81" y="302.7" width="1" height="10.1" fill="#00b050" fill-opacity="0.85"/>
<rect x="82" y="293.3" width="1" height="46.7" fill="#00b050" fill-opacity="0.63"/>
<rect x="82" y="302.7" width="1" height="11.9" fill="#00b050" fill-opacity="0.85"/>
<rect x="83" y="293.3" width="1" height="29.2" fill="#00b050" fill-opacity="1.00"/>
<rect x="83" y="301.0" width="1" height="11.5" fill="#00b050" fill-opacity="0.85"/>
<rect x="84" y="294.1" width="1" height="23.8" fill="#00b050" fill-opacity="1.00"/>
<rect x="85" y="293.3" width="1" height="29.2" fill="#00b050" fill-opacity="1.00"/>
<rect x="85" y="300.3" width="1" height="12.9" fill="#00b050" fill-opacity="0.85"/>
<rect x="86" y="297.0" width="1" height="26.1" fill="#00b050" fill-opacity="1.00"/>
<rect x="87" y="286.8" width="1" height="40.8" fill="#00b050" fill-opacity="1.00"/>
<rect x="87" y="297.3" width="1" height="18.4" fill="#00b050" fill-opacity="0.85"/>
<rect x="88" y="286.8" width="1" height="40.8" fill="#00b050" fill-opacity="1.00"/>
<rect x="88" y="300.9" width="1" height="10.7" fill="#00b050" fill-opacity="0.85"/>
<rect x="89" y="286.8" width="1" height="45.2" fill="#00b050" fill-opacity="1.00"/>
<rect x="90" y="294.7" width="1" height="37.3" fill="#00b050" fill-opacity="1.00"/>
<rect x="90" y="298.3" width="1" height="18.7" fill="#00b050" fill-opacity="0.85"/>
<rect x="91" y="288.0" width="1" height="44.0" fill="#00b050" fill-opacity="1.00"/>
<rect x="92" y="291.1" width="1" height="40.9" fill="#00b050" fill-opacity="0.82"/>
<rect x="93" y="288.0" width="1" height="44.0" fill="#00b050" fill-opacity="0.64"/>
<rect x="93" y="299.8" width="1" height="15.1" fill="#00b050" fill-opacity="0.85"/>
<rect x="96" y="281.4" width="1" height="54.1" fill="#00b050" fill-opacity="1.00"/>
<rect x="96" y="296.0" width="1" height="21.8" fill="#00b050" fill-opacity="0.85"/>
<rect x="98" y="281.4" width="1" height="54.1" fill="#00b050" fill-opacity="0.60"/>
<rect x="98" y="300.5" width="1" height="11.9" fill="#00b050" fill-opacity="0.85"/>
<rect x="99" y="282.7" width="1" height="52.8" fill="#00b050" fill-opacity="1.00"/>
<rect x="99" y="299.3" width="1" height="14.6" fill="#00b050" fill-opacity="0.85"/>
<rect x="100" y="281.4" width="1" height="61.4" fill="#00b050" fill-opacity="1.00"/>
<rect x="100" y="297.0" width="1" height="22.2" fill="#00b050" fill-opacity="0.85"/>
<rect x="102" y="281.4" width="1" height="61.4" fill="#00b050" fill-opacity="1.00"/>
<rect x="103" y="287.0" width="1" height="55.8" fill="#00b050" fill-opacity="0.82"/>
<rect x="104" y="288.0" width="1" height="50.8" fill="#00b050" fill-opacity="1.00"/>
<rect x="105" y="288.0" width="1" height="50.8" fill="#00b050" fill-opacity="1.00"/>
<rect x="107" y="297.3" width="1" height="27.1" fill="#00b050" fill-opacity="0.85"/>
<rect x="107" y="301.0" width="1" height="13.7" fill="#00b050" fill-opacity="0.85"/>
<rect x="108" y="293.3" width="1" height="30.9" fill="#00b050" fill-opacity="1.00"/>
<rect x="108" y="300.7" width="1" height="14.6" fill="#00b050" fill-opacity="0.85"/>
<rect x="110" y="294.4" width="1" height="30.7" fill="#00b050" fill-opacity="0.87"/>
<rect x="111" y="296.0" width="1" height="32.7" fill="#00b050" fill-opacity="0.76"/>
<rect x="111" y="300.8" width="1" height="15.1" fill="#00b050" fill-opacity="0.85"/>
<rect x="112" y="294.4" width="1" height="34.3" fill="#00b050" fill-opacity="1.00"/>
<rect x="113" y="294.4" width="1" height="24.7" fill="#00b050" fill-opacity="1.00"/>
<rect x="113" y="300.7" width="1" height="15.5" fill="#00b050" fill-opacity="0.85"/>
<rect x="114" y="297.3" width="1" height="31.4" fill="#00b050" fill-opacity="1.00"/>
<rect x="114" y="301.9" width="1" height="12.0" fill="#00b050" fill-opacity="0.85"/>
<rect x="115" y="294.4" width="1" height="19.7" fill="#00b050" fill-opacity="0.82"/>
<rect x="115" y="301.3" width="1" height="9.9" fill="#00b050" fill-opacity="0.85"/>
<rect x="116" y="301.2" width="1" height="17.9" fill="#00b050" fill-opacity="1.00"/>
<rect x="116" y="303.7" width="1" height="6.0" fill="#00b050" fill-opacity="0.85"/>
<rect x="117" y="298.2" width="1" height="16.9" fill="#00b050" fill-opacity="1.00"/>
<rect x="117" y="303.3" width="1" height="7.0" fill="#00b050" fill-opacity="0.85"/>
<rect x="118" y="302.9" width="1" height="8.2" fill="#00b050" fill-opacity="0.85"/>
<rect x="119" y="293.3" width="1" height="20.3" fill="#00b050" fill-opacity="0.66"/>
<rect x="120" y="293.3" width="1" height="25.8" fill="#00b050" fill-opacity="0.58"/>
<rect x="121" y="293.3" width="1" height="32.4" fill="#00b050" fill-opacity="0.66"/>
<rect x="121" y="301.7" width="1" height="11.9" fill="#00b050" fill-opacity="0.85"/>
<rect x="122" y="289.0" width="1" height="30.5" fill="#00b050" fill-opacity="0.68"/>
<rect x="122" y="300.9" width="1" height="11.7" fill="#00b050" fill-opacity="0.85"/>
<rect x="123" y="289.0" width="1" height="39.7" fill="#00b050" fill-opacity="1.00"/>
<rect x="123" y="298.0" width="1" height="18.6" fill="#00b050" fill-opacity="0.85"/>
<rect x="124" y="299.1" width="1" height="17.3" fill="#00b050" fill-opacity="0.85"/>
<rect x="125" y="301.9" width="1" height="10.1" fill="#00b050" fill-opacity="0.85"/>
<rect x="126" y="288.5" width="1" height="44.1" fill="#00b050" fill-opacity="1.00"/>
<rect x="126" y="298.3" width="1" height="19.3" fill="#00b050" fill-opacity="0.85"/>
<rect x="127" y="289.3" width="1" height="39.4" fill="#00b050" fill-opacity="0.67"/>
<rect x="128" y="297.5" width="1" height="17.7" fill="#00b050" fill-opacity="0.85"/>
<rect x="130" y="286.8" width="1" height="48.0" fill="#00b050" fill-opacity="1.00"/>
<rect x="131" y="282.5" width="1" height="54.1" fill="#00b050" fill-opacity="1.00"/>
<rect x="132" y="282.5" width="1" height="42.6" fill="#00b050" fill-opacity="0.59"/>
<rect x="132" y="298.8" width="1" height="16.5" fill="#00b050" fill-opacity="0.85"/>
<rect x="133" y="284.8" width="1" height="48.7" fill="#00b050" fill-opacity="1.00"/>
<rect x="133" y="295.4" width="1" height="27.6" fill="#00b050" fill-opacity="0.85"/>
<rect x="134" y="282.5" width="1" height="61.4" fill="#00b050" fill-opacity="1.00"/>
<rect x="134" y="294.7" width="1" height="29.3" fill="#00b050" fill-opacity="0.85"/>
<rect x="135" y="293.3" width="1" height="32.0" fill="#00b050" fill-opacity="1.00"/>
<rect x="135" y="302.4" width="1" height="8.8" fill="#00b050" fill-opacity="0.85"/>
<rect x="136" y="293.3" width="1" height="32.0" fill="#00b050" fill-opacity="0.67"/>
<rect x="136" y="300.5" width="1" height="13.8" fill="#00b050" fill-opacity="0.85"/>
<rect x="137" y="293.3" width="1" height="26.6" fill="#00b050" fill-opacity="0.60"/>
<rect x="137" y="300.2" width="1" height="14.5" fill="#00b050" fill-opacity="0.85"/>
<rect x="138" y="295.9" width="1" height="29.4" fill="#00b050" fill-opacity="0.69"/>
<rect x="138" y="301.0" width="1" height="12.3" fill="#00b050" fill-opacity="0.85"/>
<rect x="139" y="296.4" width="1" height="34.0" fill="#00b050" fill-opacity="1.00"/>
<rect x="141" y="293.9" width="1" height="36.5" fill="#00b050" fill-opacity="1.00"/>
<rect x="141" y="299.9" width="1" height="18.2" fill="#00b050" fill-opacity="0.85"/>
<rect x="142" y="296.0" width="1" height="24.1" fill="#00b050" fill-opacity="1.00"/>
<rect x="143" y="295.0" width="1" height="35.4" fill="#00b050" fill-opacity="1.00"/>
<rect x="143" y="301.5" width="1" height="14.2" fill="#00b050" fill-opacity="0.85"/>
<rect x="144" y="297.1" width="1" height="33.3" fill="#00b050" fill-opacity="0.63"/>
<rect x="144" y="301.9" width="1" height="13.0" fill="#00b050" fill-opacity="0.85"/>
<rect x="145" y="295.0" width="1" height="35.4" fill="#00b050" fill-opacity="1.00"/>
<rect x="146" y="295.0" width="1" height="35.4" fill="#00b050" fill-opacity="0.60"/>
<rect x="146" y="303.3" width="1" height="8.5" fill="#00b050" fill-opacity="0.85"/>
<rect x="147" y="295.0" width="1" height="35.4" fill="#00b050" fill-opacity="1.00"/>
<rect x="147" y="302.5" width="1" height="11.1" fill="#00b050" fill-opacity="0.85"/>
<rect x="148" y="299.9" width="1" height="19.8" fill="#00b050" fill-opacity="1.00"/>
<rect x="149" y="299.3" width="1" height="17.7" fill="#00b050" fill-opacity="1.00"/>
<rect x="149" y="304.0" width="1" height="5.9" fill="#00b050" fill-opacity="0.85"/>
<rect x="150" y="299.3" width="1" height="20.4" fill="#00b050" fill-opacity="0.83"/>
<rect x="151" y="299.3" width="1" height="7.6" fill="#00b050" fill-opacity="1.00"/>
<rect x="152" y="305.0" width="1" height="2.0" fill="#00b050" fill-opacity="1.00"/>
<rect x="152" y="305.7" width="1" height="0.5" fill="#00b050" fill-opacity="0.85"/>
<rect x="153" y="305.0" width="1" height="2.0" fill="#00b050" fill-opacity="0.80"/>
<rect x="153" y="305.7" width="1" height="0.4" fill="#00b050" fill-opacity="0.85"/>
<rect x="154" y="305.1" width="1" height="1.9" fill="#00b050" fill-opacity="1.00"/>
<rect x="154" y="305.7" width="1" height="0.5" fill="#00b050" fill-opacity="0.85"/>
<rect x="155" y="294.4" width="1" height="40.5" fill="#00b050" fill-opacity="0.89"/>
<rect x="156" y="294.4" width="1" height="40.5" fill="#00b050" fill-opacity="0.80"/>
<rect x="156" y="300.5" width="1" height="19.1" fill="#00b050" fill-opacity="0.85"/>
<rect x="157" y="290.1" width="1" height="44.8" fill="#00b050" fill-opacity="0.71"/>
<rect x="158" y="290.1" width="1" height="44.8" fill="#00b050" fill-opacity="0.63"/>
<rect x="158" y="300.2" width="1" height="16.2" fill="#00b050" fill-opacity="0.85"/>
<rect x="159" y="290.1" width="1" height="38.7" fill="#00b050" fill-opacity="0.79"/>
<rect x="160" y="290.1" width="1" height="52.1" fill="#00b050" fill-opacity="1.00"/>
<rect x="160" y="301.8" width="1" height="13.4" fill="#00b050" fill-opacity="0.85"/>
<rect x="161" y="290.1" width="1" height="52.1" fill="#00b050" fill-opacity="1.00"/>
<rect x="161" y="301.9" width="1" height="13.1" fill="#00b050" fill-opacity="0.85"/>
<rect x="162" y="292.0" width="1" height="46.3" fill="#00b050" fill-opacity="0.86"/>
<rect x="163" y="284.1" width="1" height="43.5" fill="#00b050" fill-opacity="1.00"/>
<rect x="164" y="284.1" width="1" height="54.2" fill="#00b050" fill-opacity="1.00"/>
<rect x="165" y="284.1" width="1" height="62.1" fill="#00b050" fill-opacity="0.56"/>
<rect x="166" y="284.1" width="1" height="62.1" fill="#00b050" fill-opacity="1.00"/>
<rect x="166" y="297.7" width="1" height="23.4" fill="#00b050" fill-opacity="0.85"/>
<rect x="168" y="285.9" width="1" height="60.3" fill="#00b050" fill-opacity="1.00"/>
<rect x="169" y="296.9" width="1" height="25.5" fill="#00b050" fill-opacity="0.85"/>
<rect x="171" y="288.0" width="1" height="58.2" fill="#00b050" fill-opacity="1.00"/>
<rect x="171" y="298.7" width="1" height="23.3" fill="#00b050" fill-opacity="0.85"/>
<rect x="172" y="290.1" width="1" height="48.9" fill="#00b050" fill-opacity="1.00"/>
<rect x="173" y="290.1" width="1" height="48.9" fill="#00b050" fill-opacity="1.00"/>
<rect x="173" y="300.2" width="1" height="17.6" fill="#00b050" fill-opacity="0.85"/>
<rect x="174" y="290.1" width="1" height="44.7" fill="#00b050" fill-opacity="1.00"/>
<rect x="175" y="290.1" width="1" height="51.0" fill="#00b050" fill-opacity="1.00"/>
<rect x="175" y="299.0" width="1" height="22.2" fill="#00b050" fill-opacity="0.85"/>
<rect x="176" y="290.1" width="1" height="38.3" fill="#00b050" fill-opacity="1.00"/>
<rect x="176" y="302.1" width="1" height="12.2" fill="#00b050" fill-opacity="0.85"/>
<rect x="177" y="290.1" width="1" height="51.0" fill="#00b050" fill-opacity="0.78"/>
<rect x="178" y="291.7" width="1" height="49.4" fill="#00b050" fill-opacity="0.70"/>
<rect x="178" y="301.7" width="1" height="14.5" fill="#00b050" fill-opacity="0.85"/>
<rect x="179" y="291.7" width="1" height="38.6" fill="#00b050" fill-opacity="1.00"/>
<rect x="180" y="291.7" width="1" height="38.7" fill="#00b050" fill-opacity="0.77"/>
<rect x="181" y="298.9" width="1" height="24.2" fill="#00b050" fill-opacity="0.85"/>
<rect x="182" y="291.7" width="1" height="28.6" fill="#00b050" fill-opacity="0.90"/>
<rect x="183" y="300.8" width="1" height="14.6" fill="#00b050" fill-opacity="0.85"/>
<rect x="184" y="291.7" width="1" height="40.3" fill="#00b050" fill-opacity="0.61"/>
<rect x="184" y="300.5" width="1" height="15.2" fill="#00b050" fill-opacity="0.85"/>
<rect x="186" y="292.2" width="1" height="31.1" fill="#00b050" fill-opacity="1.00"/>
<rect x="187" y="299.4" width="1" height="21.0" fill="#00b050" fill-opacity="0.85"/>
<rect x="188" y="292.2" width="1" height="44.4" fill="#00b050" fill-opacity="1.00"/>
<rect x="188" y="303.1" width="1" height="9.0" fill="#00b050" fill-opacity="0.85"/>
<rect x="189" y="285.0" width="1" height="51.6" fill="#00b050" fill-opacity="0.57"/>
<rect x="189" y="298.4" width="1" height="18.5" fill="#00b050" fill-opacity="0.85"/>
<rect x="190" y="293.3" width="1" height="43.3" fill="#00b050" fill-opacity="1.00"/>
<rect x="190" y="295.6" width="1" height="25.4" fill="#00b050" fill-opacity="0.85"/>
<rect x="191" y="285.0" width="1" height="55.0" fill="#00b050" fill-opacity="1.00"/>
<rect x="192" y="285.0" width="1" height="55.0" fill="#00b050" fill-opacity="1.00"/>
<rect x="192" y="299.5" width="1" height="16.8" fill="#00b050" fill-opacity="0.85"/>
<rect x="193" y="285.0" width="1" height="48.4" fill="#00b050" fill-opacity="1.00"/>
<rect x="193" y="298.9" width="1" height="18.3" fill="#00b050" fill-opacity="0.85"/>
<rect x="194" y="285.0" width="1" height="55.0" fill="#00b050" fill-opacity="1.00"/>
<rect x="196" y="285.0" width="1" height="62.3" fill="#00b050" fill-opacity="0.89"/>
<rect x="196" y="298.2" width="1" height="23.1" fill="#00b050" fill-opacity="0.85"/>
<rect x="197" y="285.0" width="1" height="62.3" fill="#00b050" fill-opacity="1.00"/>
<rect x="198" y="298.7" width="1" height="48.6" fill="#00b050" fill-opacity="1.00"/>
<rect x="198" y="302.4" width="1" height="23.6" fill="#00b050" fill-opacity="0.85"/>
<rect x="199" y="291.7" width="1" height="42.3" fill="#00b050" fill-opacity="0.81"/>
<rect x="200" y="300.5" width="1" height="16.0" fill="#00b050" fill-opacity="0.85"/>
<rect x="201" y="291.7" width="1" height="40.5" fill="#00b050" fill-opacity="1.00"/>
<rect x="202" y="291.7" width="1" height="42.3" fill="#00b050" fill-opacity="0.67"/>
<rect x="202" y="300.2" width="1" height="16.9" fill="#00b050" fill-opacity="0.85"/>
<rect x="203" y="291.7" width="1" height="42.3" fill="#00b050" fill-opacity="0.83"/>
<rect x="203" y="299.2" width="1" height="20.0" fill="#00b050" fill-opacity="0.85"/>
<rect x="204" y="291.7" width="1" height="42.3" fill="#00b050" fill-opacity="0.86"/>
<rect x="205" y="291.7" width="1" height="42.3" fill="#00b050" fill-opacity="1.00"/>
<rect x="205" y="299.0" width="1" height="20.4" fill="#00b050" fill-opacity="0.85"/>
<rect x="206" y="291.7" width="1" height="31.7" fill="#00b050" fill-opacity="0.66"/>
<rect x="206" y="300.5" width="1" height="16.1" fill="#00b050" fill-opacity="0.85"/>
<rect x="207" y="296.7" width="1" height="37.3" fill="#00b050" fill-opacity="1.00"/>
<rect x="207" y="301.5" width="1" height="14.2" fill="#00b050" fill-opacity="0.85"/>
<rect x="208" y="293.3" width="1" height="40.7" fill="#00b050" fill-opacity="1.00"/>
<rect x="210" y="293.3" width="1" height="40.7" fill="#00b050" fill-opacity="0.61"/>
<rect x="210" y="300.2" width="1" height="18.3" fill="#00b050" fill-opacity="0.85"/>
<rect x="211" y="299.1" width="1" height="7.9" fill="#00b050" fill-opacity="1.00"/>
<rect x="212" y="297.1" width="1" height="9.9" fill="#00b050" fill-opacity="1.00"/>
<rect x="213" y="296.6" width="1" height="24.2" fill="#00b050" fill-opacity="1.00"/>
<rect x="214" y="296.6" width="1" height="24.2" fill="#00b050" fill-opacity="1.00"/>
<rect x="214" y="303.0" width="1" height="7.5" fill="#00b050" fill-opacity="0.85"/>
<rect x="215" y="296.6" width="1" height="24.2" fill="#00b050" fill-opacity="0.85"/>
<rect x="216" y="296.6" width="1" height="30.4" fill="#00b050" fill-opacity="0.55"/>
<rect x="216" y="301.9" width="1" height="13.2" fill="#00b050" fill-opacity="0.85"/>
<rect x="217" y="290.0" width="1" height="37.0" fill="#00b050" fill-opacity="0.55"/>
<rect x="218" y="290.0" width="1" height="37.0" fill="#00b050" fill-opacity="1.00"/>
<rect x="219" y="293.1" width="1" height="33.9" fill="#00b050" fill-opacity="0.57"/>
<rect x="219" y="301.0" width="1" height="12.2" fill="#00b050" fill-opacity="0.85"/>
<rect x="220" y="295.1" width="1" height="24.8" fill="#00b050" fill-opacity="1.00"/>
<rect x="221" y="291.7" width="1" height="44.3" fill="#00b050" fill-opacity="1.00"/>
<rect x="221" y="302.2" width="1" height="11.5" fill="#00b050" fill-opacity="0.85"/>
<rect x="222" y="291.7" width="1" height="32.6" fill="#00b050" fill-opacity="1.00"/>
<rect x="223" y="291.8" width="1" height="32.5" fill="#00b050" fill-opacity="0.56"/>
<rect x="223" y="301.9" width="1" height="11.0" fill="#00b050" fill-opacity="0.85"/>
<rect x="224" y="288.5" width="1" height="49.5" fill="#00b050" fill-opacity="0.76"/>
<rect x="224" y="297.4" width="1" height="25.1" fill="#00b050" fill-opacity="0.85"/>
<rect x="225" y="286.0" width="1" height="54.0" fill="#00b050" fill-opacity="1.00"/>
<rect x="225" y="298.1" width="1" height="21.1" fill="#00b050" fill-opacity="0.85"/>
<rect x="226" y="289.0" width="1" height="51.0" fill="#00b050" fill-opacity="0.89"/>
<rect x="227" y="286.0" width="1" height="54.0" fill="#00b050" fill-opacity="0.89"/>
<rect x="227" y="297.0" width="1" height="24.1" fill="#00b050" fill-opacity="0.85"/>
<rect x="228" y="296.9" width="1" height="27.8" fill="#00b050" fill-opacity="0.85"/>
<rect x="229" y="286.0" width="1" height="61.3" fill="#00b050" fill-opacity="0.74"/>
<rect x="229" y="296.4" width="1" height="29.4" fill="#00b050" fill-opacity="0.85"/>
<rect x="230" y="293.1" width="1" height="54.2" fill="#00b050" fill-opacity="1.00"/>
<rect x="230" y="299.3" width="1" height="20.3" fill="#00b050" fill-opacity="0.85"/>
<rect x="231" y="298.7" width="1" height="27.4" fill="#00b050" fill-opacity="0.78"/>
<rect x="231" y="304.1" width="1" height="9.4" fill="#00b050" fill-opacity="0.85"/>
<rect x="233" y="291.2" width="1" height="44.3" fill="#00b050" fill-opacity="1.00"/>
<rect x="234" y="291.2" width="1" height="44.3" fill="#00b050" fill-opacity="0.58"/>
<rect x="235" y="291.2" width="1" height="52.2" fill="#00b050" fill-opacity="0.80"/>
<rect x="235" y="301.6" width="1" height="15.4" fill="#00b050" fill-opacity="0.85"/>
<rect x="236" y="291.2" width="1" height="52.2" fill="#00b050" fill-opacity="1.00"/>
<rect x="236" y="301.9" width="1" height="14.1" fill="#00b050" fill-opacity="0.85"/>
<rect x="237" y="291.2" width="1" height="52.2" fill="#00b050" fill-opacity="0.64"/>
<rect x="238" y="291.2" width="1" height="52.2" fill="#00b050" fill-opacity="0.88"/>
<rect x="239" y="291.2" width="1" height="51.0" fill="#00b050" fill-opacity="1.00"/>
<rect x="239" y="302.9" width="1" height="10.3" fill="#00b050" fill-opacity="0.85"/>
<rect x="240" y="293.3" width="1" height="35.3" fill="#00b050" fill-opacity="1.00"/>
<rect x="241" y="293.3" width="1" height="48.9" fill="#00b050" fill-opacity="1.00"/>
<rect x="241" y="302.4" width="1" height="13.5" fill="#00b050" fill-opacity="0.85"/>
<rect x="242" y="293.3" width="1" height="37.1" fill="#00b050" fill-opacity="1.00"/>
<rect x="242" y="300.2" width="1" height="22.1" fill="#00b050" fill-opacity="0.85"/>
<rect x="243" y="298.1" width="1" height="32.0" fill="#00b050" fill-opacity="1.00"/>
<rect x="243" y="301.2" width="1" height="18.2" fill="#00b050" fill-opacity="0.85"/>
<rect x="244" y="293.3" width="1" height="33.1" fill="#00b050" fill-opacity="0.86"/>
<rect x="244" y="303.0" width="1" height="7.5" fill="#00b050" fill-opacity="0.85"/>
<rect x="245" y="297.6" width="1" height="28.8" fill="#00b050" fill-opacity="0.61"/>
<rect x="245" y="302.2" width="1" height="12.8" fill="#00b050" fill-opacity="0.85"/>
<rect x="246" y="299.9" width="1" height="24.6" fill="#00b050" fill-opacity="1.00"/>
<rect x="247" y="297.6" width="1" height="24.1" fill="#00b050" fill-opacity="1.00"/>
<rect x="248" y="291.2" width="1" height="29.5" fill="#00b050" fill-opacity="1.00"/>
<rect x="249" y="291.2" width="1" height="36.6" fill="#00b050" fill-opacity="0.86"/>
<rect x="250" y="294.9" width="1" height="41.7" fill="#00b050" fill-opacity="1.00"/>
<rect x="250" y="302.8" width="1" height="9.4" fill="#00b050" fill-opacity="0.85"/>
<rect x="251" y="292.2" width="1" height="31.2" fill="#00b050" fill-opacity="0.62"/>
<rect x="251" y="302.0" width="1" height="12.8" fill="#00b050" fill-opacity="0.85"/>
<rect x="253" y="292.2" width="1" height="44.4" fill="#00b050" fill-opacity="1.00"/>
<rect x="254" y="292.2" width="1" height="31.2" fill="#00b050" fill-opacity="1.00"/>
<rect x="254" y="302.2" width="1" height="11.9" fill="#00b050" fill-opacity="0.85"/>
<rect x="255" y="292.2" width="1" height="44.4" fill="#00b050" fill-opacity="0.65"/>
<rect x="256" y="296.1" width="1" height="41.8" fill="#00b050" fill-opacity="1.00"/>
<rect x="256" y="301.7" width="1" height="14.8" fill="#00b050" fill-opacity="0.85"/>
<rect x="258" y="286.0" width="1" height="51.0" fill="#00b050" fill-opacity="0.76"/>
<rect x="258" y="301.9" width="1" height="10.9" fill="#00b050" fill-opacity="0.85"/>
<rect x="259" y="288.2" width="1" height="55.1" fill="#00b050" fill-opacity="1.00"/>
<rect x="259" y="300.4" width="1" height="17.0" fill="#00b050" fill-opacity="0.85"/>
<rect x="260" y="286.0" width="1" height="57.6" fill="#00b050" fill-opacity="1.00"/>
<rect x="261" y="286.0" width="1" height="61.3" fill="#00b050" fill-opacity="1.00"/>
<rect x="263" y="290.6" width="1" height="35.8" fill="#00b050" fill-opacity="1.00"/>
<rect x="263" y="301.8" width="1" height="9.5" fill="#00b050" fill-opacity="0.85"/>
<rect x="264" y="290.6" width="1" height="35.8" fill="#00b050" fill-opacity="0.55"/>
<rect x="265" y="290.6" width="1" height="35.8" fill="#00b050" fill-opacity="0.86"/>
<rect x="265" y="302.2" width="1" height="8.6" fill="#00b050" fill-opacity="0.85"/>
<rect x="266" y="290.6" width="1" height="41.5" fill="#00b050" fill-opacity="1.00"/>
<rect x="266" y="301.9" width="1" height="11.0" fill="#00b050" fill-opacity="0.85"/>
<rect x="267" y="290.6" width="1" height="35.6" fill="#00b050" fill-opacity="0.65"/>
<rect x="269" y="291.5" width="1" height="40.6" fill="#00b050" fill-opacity="1.00"/>
<rect x="270" y="291.5" width="1" height="35.3" fill="#00b050" fill-opacity="0.70"/>
<rect x="271" y="291.5" width="1" height="40.6" fill="#00b050" fill-opacity="1.00"/>
<rect x="272" y="291.5" width="1" height="40.6" fill="#00b050" fill-opacity="1.00"/>
<rect x="272" y="302.2" width="1" height="10.4" fill="#00b050" fill-opacity="0.85"/>
<rect x="273" y="291.5" width="1" height="40.6" fill="#00b050" fill-opacity="1.00"/>
<rect x="273" y="301.7" width="1" height="11.9" fill="#00b050" fill-opacity="0.85"/>
<rect x="274" y="291.5" width="1" height="40.6" fill="#00b050" fill-opacity="1.00"/>
<rect x="274" y="299.1" width="1" height="19.3" fill="#00b050" fill-opacity="0.85"/>
<rect x="275" y="290.6" width="1" height="41.5" fill="#00b050" fill-opacity="0.88"/>
<rect x="276" y="297.3" width="1" height="29.1" fill="#00b050" fill-opacity="1.00"/>
<rect x="277" y="290.6" width="1" height="32.7" fill="#00b050" fill-opacity="0.61"/>
<rect x="279" y="290.6" width="1" height="35.8" fill="#00b050" fill-opacity="1.00"/>
<rect x="279" y="299.3" width="1" height="15.5" fill="#00b050" fill-opacity="0.85"/>
<rect x="280" y="295.6" width="1" height="22.2" fill="#00b050" fill-opacity="0.56"/>
<rect x="280" y="302.4" width="1" height="8.3" fill="#00b050" fill-opacity="0.85"/>
<rect x="281" y="293.1" width="1" height="33.3" fill="#00b050" fill-opacity="1.00"/>
<rect x="283" y="288.5" width="1" height="32.9" fill="#00b050" fill-opacity="0.85"/>
<rect x="283" y="301.4" width="1" height="10.5" fill="#00b050" fill-opacity="0.85"/>
<rect x="284" y="288.0" width="1" height="33.3" fill="#00b050" fill-opacity="0.86"/>
<rect x="284" y="298.3" width="1" height="16.4" fill="#00b050" fill-opacity="0.85"/>
<rect x="285" y="291.3" width="1" height="56.0" fill="#00b050" fill-opacity="0.66"/>
<rect x="286" y="285.8" width="1" height="53.9" fill="#00b050" fill-opacity="0.86"/>
<rect x="287" y="285.8" width="1" height="43.8" fill="#00b050" fill-opacity="0.73"/>
<rect x="287" y="301.2" width="1" height="14.5" fill="#00b050" fill-opacity="0.85"/>
<rect x="288" y="287.7" width="1" height="53.4" fill="#00b050" fill-opacity="0.84"/>
<rect x="288" y="297.7" width="1" height="25.0" fill="#00b050" fill-opacity="0.85"/>
<rect x="290" y="290.6" width="1" height="38.7" fill="#00b050" fill-opacity="1.00"/>
<rect x="291" y="290.6" width="1" height="38.7" fill="#00b050" fill-opacity="1.00"/>
<rect x="291" y="299.1" width="1" height="17.3" fill="#00b050" fill-opacity="0.85"/>
<rect x="292" y="299.3" width="1" height="19.3" fill="#00b050" fill-opacity="0.85"/>
<rect x="293" y="288.0" width="1" height="47.5" fill="#00b050" fill-opacity="1.00"/>
<rect x="293" y="299.4" width="1" height="17.4" fill="#00b050" fill-opacity="0.85"/>
<rect x="294" y="300.8" width="1" height="13.6" fill="#00b050" fill-opacity="0.85"/>
<rect x="295" y="288.0" width="1" height="47.5" fill="#00b050" fill-opacity="0.88"/>
<rect x="295" y="299.7" width="1" height="16.4" fill="#00b050" fill-opacity="0.85"/>
<rect x="296" y="288.0" width="1" height="44.9" fill="#00b050" fill-opacity="1.00"/>
<rect x="296" y="299.5" width="1" height="16.8" fill="#00b050" fill-opacity="0.85"/>
<rect x="297" y="292.8" width="1" height="30.2" fill="#00b050" fill-opacity="1.00"/>
<rect x="298" y="292.8" width="1" height="42.1" fill="#00b050" fill-opacity="1.00"/>
<rect x="298" y="302.8" width="1" height="10.0" fill="#00b050" fill-opacity="0.85"/>
<rect x="299" y="292.8" width="1" height="36.1" fill="#00b050" fill-opacity="0.77"/>
<rect x="299" y="299.4" width="1" height="20.7" fill="#00b050" fill-opacity="0.85"/>
<rect x="300" y="292.8" width="1" height="42.1" fill="#00b050" fill-opacity="1.00"/>
<rect x="302" y="294.9" width="1" height="43.1" fill="#00b050" fill-opacity="1.00"/>
<rect x="302" y="298.4" width="1" height="21.4" fill="#00b050" fill-opacity="0.85"/>
<rect x="303" y="288.5" width="1" height="49.5" fill="#00b050" fill-opacity="1.00"/>
<rect x="303" y="300.7" width="1" height="14.7" fill="#00b050" fill-opacity="0.85"/>
<rect x="304" y="288.5" width="1" height="49.5" fill="#00b050" fill-opacity="0.67"/>
<rect x="305" y="285.8" width="1" height="46.1" fill="#00b050" fill-opacity="1.00"/>
<rect x="306" y="287.4" width="1" height="56.6" fill="#00b050" fill-opacity="1.00"/>
<rect x="307" y="297.3" width="1" height="24.9" fill="#00b050" fill-opacity="0.85"/>
<rect x="308" y="301.8" width="1" height="11.9" fill="#00b050" fill-opacity="0.85"/>
<rect x="309" y="285.8" width="1" height="37.8" fill="#00b050" fill-opacity="0.58"/>
<rect x="310" y="301.4" width="1" height="22.2" fill="#00b050" fill-opacity="0.65"/>
<rect x="311" y="299.3" width="1" height="24.3" fill="#00b050" fill-opacity="1.00"/>
<rect x="312" y="292.0" width="1" height="31.6" fill="#00b050" fill-opacity="1.00"/>
<rect x="313" y="292.0" width="1" height="51.4" fill="#00b050" fill-opacity="0.73"/>
<rect x="313" y="301.5" width="1" height="16.4" fill="#00b050" fill-opacity="0.85"/>
<rect x="314" y="292.0" width="1" height="51.4" fill="#00b050" fill-opacity="1.00"/>
<rect x="314" y="299.6" width="1" height="23.3" fill="#00b050" fill-opacity="0.85"/>
<rect x="315" y="293.7" width="1" height="49.7" fill="#00b050" fill-opacity="1.00"/>
<rect x="315" y="300.5" width="1" height="20.0" fill="#00b050" fill-opacity="0.85"/>
<rect x="316" y="299.7" width="1" height="23.1" fill="#00b050" fill-opacity="0.85"/>
<rect x="317" y="296.8" width="1" height="46.6" fill="#00b050" fill-opacity="0.89"/>
<rect x="318" y="293.3" width="1" height="50.1" fill="#00b050" fill-opacity="0.83"/>
<rect x="318" y="302.0" width="1" height="15.7" fill="#00b050" fill-opacity="0.85"/>
<rect x="319" y="293.3" width="1" height="33.3" fill="#00b050" fill-opacity="1.00"/>
<rect x="319" y="300.4" width="1" height="21.8" fill="#00b050" fill-opacity="0.85"/>
<rect x="320" y="295.5" width="1" height="39.9" fill="#00b050" fill-opacity="1.00"/>
<rect x="320" y="301.8" width="1" height="16.2" fill="#00b050" fill-opacity="0.85"/>
<rect x="321" y="293.3" width="1" height="50.1" fill="#00b050" fill-opacity="0.89"/>
<line x1="77.5" y1="269.3" x2="77.5" y2="357.0" stroke="#00b050" stroke-width="1"/>
<line x1="103.5" y1="266.1" x2="103.5" y2="329.0" stroke="#00b050" stroke-width="1"/>
<line x1="161.5" y1="266.3" x2="161.5" y2="342.0" stroke="#00b050" stroke-width="1"/>
<line x1="170.5" y1="270.6" x2="170.5" y2="346.0" stroke="#00b050" stroke-width="1"/>
<line x1="217.5" y1="273.3" x2="217.5" y2="327.0" stroke="#00b050" stroke-width="1"/>
<line x1="255.5" y1="269.0" x2="255.5" y2="345.0" stroke="#00b050" stroke-width="1"/>
<line x1="303.5" y1="264.2" x2="303.5" y2="355.8" stroke="#00b050" stroke-width="1"/>
<line x1="51.50" y1="305.60" x2="322.70" y2="305.60" stroke="#00b050" stroke-width="1.2"/>
<rect x="51" y="295.5" width="2.6" height="28.5" fill="#00b050"/>
<polygon points="390.4,133.3 390.4,104.4 391.4,104.4 391.4,104.7 392.4,104.7 392.4,105.3 393.4,105.3 393.4,104.6 394.4,104.6 394.4,106.3 395.4,106.3 395.4,107.9 396.4,107.9 396.4,107.3 397.4,107.3 397.4,106.7 398.4,106.7 398.4,106.4 399.4,106.4 399.4,106.2 400.4,106.2 400.4,107.0 401.4,107.0 401.4,107.6 402.4,107.6 402.4,103.7 403.4,103.7 403.4,107.7 404.4,107.7 404.4,109.2 405.4,109.2 405.4,109.9 406.4,109.9 406.4,110.3 407.4,110.3 407.4,111.0 408.4,111.0 408.4,109.0 409.4,109.0 409.4,109.3 410.4,109.3 410.4,109.8 411.4,109.8 411.4,109.5 412.4,109.5 412.4,109.7 413.4,109.7 413.4,110.2 414.4,110.2 414.4,111.0 415.4,111.0 415.4,111.0 416.4,111.0 416.4,111.2 417.4,111.2 417.4,109.2 418.4,109.2 418.4,111.1 419.4,111.1 419.4,110.2 420.4,110.2 420.4,109.8 421.4,109.8 421.4,111.2 422.4,111.2 422.4,110.5 423.4,110.5 423.4,113.3 424.4,113.3 424.4,113.4 425.4,113.4 425.4,112.2 426.4,112.2 426.4,113.9 427.4,113.9 427.4,112.4 428.4,112.4 428.4,112.6 429.4,112.6 429.4,113.5 430.4,113.5 430.4,115.2 431.4,115.2 431.4,115.5 432.4,115.5 432.4,113.5 433.4,113.5 433.4,113.6 434.4,113.6 434.4,114.7 435.4,114.7 435.4,106.0 436.4,106.0 436.4,107.1 437.4,107.1 437.4,108.5 438.4,108.5 438.4,107.4 439.4,107.4 439.4,107.8 440.4,107.8 440.4,107.6 441.4,107.6 441.4,108.6 442.4,108.6 442.4,107.3 443.4,107.3 443.4,106.9 444.4,106.9 444.4,108.6 445.4,108.6 445.4,105.7 446.4,105.7 446.4,105.4 447.4,105.4 447.4,108.3 448.4,108.3 448.4,108.4 449.4,108.4 449.4,108.7 450.4,108.7 450.4,108.9 451.4,108.9 451.4,107.4 452.4,107.4 452.4,109.1 453.4,109.1 453.4,108.2 454.4,108.2 454.4,109.2 455.4,109.2 455.4,108.9 456.4,108.9 456.4,109.2 457.4,109.2 457.4,109.4 458.4,109.4 458.4,108.4 459.4,108.4 459.4,111.1 460.4,111.1 460.4,110.1 461.4,110.1 461.4,110.5 462.4,110.5 462.4,111.3 463.4,111.3 463.4,112.0 464.4,112.0 464.4,113.7 465.4,113.7 465.4,114.1 466.4,114.1 466.4,113.7 467.4,113.7 467.4,115.1 468.4,115.1 468.4,114.8 469.4,114.8 469.4,114.2 470.4,114.2 470.4,114.6 471.4,114.6 471.4,116.4 472.4,116.4 472.4,115.2 473.4,115.2 473.4,116.3 474.4,116.3 474.4,115.7 475.4,115.7 475.4,115.6 476.4,115.6 476.4,115.7 477.4,115.7 477.4,116.1 478.4,116.1 478.4,116.2 479.4,116.2 479.4,112.3 480.4,112.3 480.4,117.5 481.4,117.5 481.4,116.5 482.4,116.5 482.4,117.7 483.4,117.7 483.4,117.4 484.4,117.4 484.4,117.3 485.4,117.3 485.4,116.4 486.4,116.4 486.4,116.3 487.4,116.3 487.4,117.2 488.4,117.2 488.4,114.5 489.4,114.5 489.4,117.5 490.4,117.5 490.4,118.0 491.4,118.0 491.4,114.3 492.4,114.3 492.4,116.2 493.4,116.2 493.4,117.4 494.4,117.4 494.4,116.8 495.4,116.8 495.4,117.3 496.4,117.3 496.4,116.4 497.4,116.4 497.4,116.9 498.4,116.9 498.4,116.7 499.4,116.7 499.4,117.2 500.4,117.2 500.4,116.3 501.4,116.3 501.4,118.2 502.4,118.2 502.4,115.4 503.4,115.4 503.4,116.5 504.4,116.5 504.4,116.8 505.4,116.8 505.4,117.2 506.4,117.2 506.4,117.0 507.4,117.0 507.4,116.6 508.4,116.6 508.4,116.5 509.4,116.5 509.4,118.5 510.4,118.5 510.4,117.7 511.4,117.7 511.4,117.3 512.4,117.3 512.4,118.1 513.4,118.1 513.4,117.5 514.4,117.5 514.4,117.5 515.4,117.5 515.4,118.0 516.4,118.0 516.4,117.7 517.4,117.7 517.4,117.6 518.4,117.6 518.4,119.7 519.4,119.7 519.4,119.7 520.4,119.7 520.4,120.3 521.4,120.3 521.4,119.7 522.4,119.7 522.4,120.5 523.4,120.5 523.4,120.5 524.4,120.5 524.4,119.4 525.4,119.4 525.4,120.5 526.4,120.5 526.4,119.8 527.4,119.8 527.4,120.9 528.4,120.9 528.4,119.7 529.4,119.7 529.4,120.7 530.4,120.7 530.4,119.9 531.4,119.9 531.4,120.8 532.4,120.8 532.4,120.9 533.4,120.9 533.4,120.4 534.4,120.4 534.4,120.2 535.4,120.2 535.4,118.9 536.4,118.9 536.4,119.4 537.4,119.4 537.4,119.0 538.4,119.0 538.4,116.1 539.4,116.1 539.4,119.1 540.4,119.1 540.4,120.4 541.4,120.4 541.4,121.1 542.4,121.1 542.4,117.8 543.4,117.8 543.4,120.0 544.4,120.0 544.4,119.1 545.4,119.1 545.4,121.0 546.4,121.0 546.4,119.6 547.4,119.6 547.4,120.8 548.4,120.8 548.4,119.2 549.4,119.2 549.4,120.3 550.4,120.3 550.4,119.7 551.4,119.7 551.4,119.8 552.4,119.8 552.4,119.8 553.4,119.8 553.4,120.0 554.4,120.0 554.4,119.8 555.4,119.8 555.4,119.2 556.4,119.2 556.4,120.6 557.4,120.6 557.4,120.0 558.4,120.0 558.4,120.3 559.4,120.3 559.4,119.2 560.4,119.2 560.4,120.6 561.4,120.6 561.4,120.0 562.4,120.0 562.4,120.5 563.4,120.5 563.4,119.4 564.4,119.4 564.4,120.2 565.4,120.2 565.4,119.9 566.4,119.9 566.4,122.8 567.4,122.8 567.4,123.5 568.4,123.5 568.4,125.1 569.4,125.1 569.4,124.0 570.4,124.0 570.4,123.5 571.4,123.5 571.4,124.3 572.4,124.3 572.4,124.3 573.4,124.3 573.4,125.3 574.4,125.3 574.4,125.8 575.4,125.8 575.4,122.6 576.4,122.6 576.4,123.2 577.4,123.2 577.4,122.5 578.4,122.5 578.4,122.9 579.4,122.9 579.4,122.2 580.4,122.2 580.4,123.5 581.4,123.5 581.4,121.8 582.4,121.8 582.4,122.9 583.4,122.9 583.4,123.5 584.4,123.5 584.4,121.8 585.4,121.8 585.4,121.8 586.4,121.8 586.4,122.9 587.4,122.9 587.4,123.4 588.4,123.4 588.4,123.3 589.4,123.3 589.4,122.2 590.4,122.2 590.4,121.4 591.4,121.4 591.4,123.2 592.4,123.2 592.4,122.1 593.4,122.1 593.4,121.0 594.4,121.0 594.4,122.2 595.4,122.2 595.4,121.7 596.4,121.7 596.4,123.5 597.4,123.5 597.4,122.5 598.4,122.5 598.4,121.9 599.4,121.9 599.4,121.5 600.4,121.5 600.4,123.4 601.4,123.4 601.4,123.5 602.4,123.5 602.4,123.3 603.4,123.3 603.4,122.4 604.4,122.4 604.4,123.4 605.4,123.4 605.4,122.7 606.4,122.7 606.4,124.6 607.4,124.6 607.4,123.8 608.4,123.8 608.4,123.9 609.4,123.9 609.4,124.5 610.4,124.5 610.4,124.2 611.4,124.2 611.4,124.5 612.4,124.5 612.4,123.4 613.4,123.4 613.4,124.6 614.4,124.6 614.4,125.4 615.4,125.4 615.4,124.0 616.4,124.0 616.4,124.7 617.4,124.7 617.4,124.8 618.4,124.8 618.4,124.1 619.4,124.1 619.4,123.6 620.4,123.6 620.4,125.3 621.4,125.3 621.4,125.3 622.4,125.3 622.4,124.2 623.4,124.2 623.4,123.5 624.4,123.5 624.4,124.3 625.4,124.3 625.4,124.6 626.4,124.6 626.4,124.8 627.4,124.8 627.4,125.7 628.4,125.7 628.4,125.8 629.4,125.8 629.4,124.4 630.4,124.4 630.4,124.1 631.4,124.1 631.4,125.5 632.4,125.5 632.4,124.3 633.4,124.3 633.4,125.6 634.4,125.6 634.4,125.6 635.4,125.6 635.4,124.2 636.4,124.2 636.4,124.3 637.4,124.3 637.4,125.2 638.4,125.2 638.4,124.4 639.4,124.4 639.4,123.9 640.4,123.9 640.4,125.9 641.4,125.9 641.4,124.7 642.4,124.7 642.4,125.2 643.4,125.2 643.4,126.1 644.4,126.1 644.4,124.5 645.4,124.5 645.4,125.0 646.4,125.0 646.4,122.6 647.4,122.6 647.4,125.4 648.4,125.4 648.4,124.9 649.4,124.9 649.4,124.0 650.4,124.0 650.4,123.6 651.4,123.6 651.4,125.0 652.4,125.0 652.4,124.7 653.4,124.7 653.4,125.4 654.4,125.4 654.4,125.0 655.4,125.0 655.4,123.2 656.4,123.2 656.4,123.5 657.4,123.5 657.4,124.1 658.4,124.1 658.4,123.6 659.4,123.6 659.4,124.4 660.4,124.4 660.4,124.8 661.4,124.8 661.4,124.9 662.4,124.9 662.4,124.4 663.4,124.4 663.4,124.5 664.4,124.5 664.4,124.6 665.4,124.6 665.4,124.3 666.4,124.3 666.4,121.5 667.4,121.5 667.4,122.9 668.4,122.9 668.4,123.6 669.4,123.6 669.4,123.6 670.4,123.6 670.4,123.9 671.4,123.9 670.8,133.3" fill="#00b050"/>
<rect x="393.3" y="93.3" width="0.9" height="40" fill="#fff" fill-opacity="0.8"/>
<rect x="398.1" y="93.3" width="0.9" height="40" fill="#fff" fill-opacity="0.75"/>
<rect x="437.8" y="93.3" width="1" height="40" fill="#fff" fill-opacity="0.9"/>
<rect x="521.8" y="93.3" width="0.8" height="40" fill="#fff" fill-opacity="0.35"/>
<rect x="523.6" y="93.3" width="0.8" height="40" fill="#fff" fill-opacity="0.5"/>
<rect x="526.2" y="93.3" width="0.8" height="40" fill="#fff" fill-opacity="0.3"/>
<line x1="395.50" y1="77.20" x2="395.50" y2="128.30" stroke="#00b050" stroke-width="1"/>
<line x1="405.50" y1="88.20" x2="405.50" y2="128.30" stroke="#00b050" stroke-width="1"/>
<line x1="463.50" y1="104.00" x2="463.50" y2="128.30" stroke="#00b050" stroke-width="1"/>
<line x1="518.50" y1="113.80" x2="518.50" y2="128.30" stroke="#00b050" stroke-width="1"/>
<line x1="525.50" y1="113.80" x2="525.50" y2="128.30" stroke="#00b050" stroke-width="1"/>
<line x1="627.50" y1="121.00" x2="627.50" y2="128.30" stroke="#00b050" stroke-width="1"/>
<line x1="630.50" y1="121.00" x2="630.50" y2="128.30" stroke="#00b050" stroke-width="1"/>
<line x1="632.50" y1="121.00" x2="632.50" y2="128.30" stroke="#00b050" stroke-width="1"/>
<rect x="403.7" y="131.4" width="1.4" height="0.9" fill="#fff" fill-opacity="0.45"/>
<rect x="413.5" y="131.4" width="2.1" height="0.9" fill="#fff" fill-opacity="0.45"/>
<rect x="418.3" y="131.4" width="1.0" height="0.9" fill="#fff" fill-opacity="0.45"/>
<rect x="428.9" y="131.4" width="1.3" height="0.9" fill="#fff" fill-opacity="0.45"/>
<rect x="433.1" y="131.4" width="1.1" height="0.9" fill="#fff" fill-opacity="0.45"/>
<rect x="436.4" y="131.4" width="2.0" height="0.9" fill="#fff" fill-opacity="0.45"/>
<rect x="439.6" y="131.4" width="1.9" height="0.9" fill="#fff" fill-opacity="0.45"/>
<rect x="447.0" y="131.4" width="1.8" height="0.9" fill="#fff" fill-opacity="0.45"/>
<rect x="453.7" y="131.4" width="1.9" height="0.9" fill="#fff" fill-opacity="0.45"/>
<rect x="461.3" y="131.4" width="1.1" height="0.9" fill="#fff" fill-opacity="0.45"/>
<rect x="466.5" y="131.4" width="2.6" height="0.9" fill="#fff" fill-opacity="0.45"/>
<rect x="474.8" y="131.4" width="1.5" height="0.9" fill="#fff" fill-opacity="0.45"/>
<rect x="484.2" y="131.4" width="2.4" height="0.9" fill="#fff" fill-opacity="0.45"/>
<rect x="493.1" y="131.4" width="1.2" height="0.9" fill="#fff" fill-opacity="0.45"/>
<rect x="496.7" y="131.4" width="1.1" height="0.9" fill="#fff" fill-opacity="0.45"/>
<rect x="518.5" y="131.4" width="2.2" height="0.9" fill="#fff" fill-opacity="0.45"/>
<rect x="524.3" y="131.4" width="1.6" height="0.9" fill="#fff" fill-opacity="0.45"/>
<rect x="529.9" y="131.4" width="1.8" height="0.9" fill="#fff" fill-opacity="0.45"/>
<rect x="539.7" y="131.4" width="2.5" height="0.9" fill="#fff" fill-opacity="0.45"/>
<rect x="553.6" y="131.4" width="1.5" height="0.9" fill="#fff" fill-opacity="0.45"/>
<rect x="562.8" y="131.4" width="2.4" height="0.9" fill="#fff" fill-opacity="0.45"/>
<rect x="586.9" y="131.4" width="2.7" height="0.9" fill="#fff" fill-opacity="0.45"/>
<rect x="597.4" y="131.4" width="2.8" height="0.9" fill="#fff" fill-opacity="0.45"/>
<rect x="602.6" y="131.4" width="1.7" height="0.9" fill="#fff" fill-opacity="0.45"/>
<rect x="605.8" y="131.4" width="2.9" height="0.9" fill="#fff" fill-opacity="0.45"/>
<rect x="612.5" y="131.4" width="2.3" height="0.9" fill="#fff" fill-opacity="0.45"/>
<rect x="616.2" y="131.4" width="1.3" height="0.9" fill="#fff" fill-opacity="0.45"/>
<rect x="624.2" y="131.4" width="2.9" height="0.9" fill="#fff" fill-opacity="0.45"/>
<rect x="641.5" y="131.4" width="1.4" height="0.9" fill="#fff" fill-opacity="0.45"/>
<rect x="648.1" y="131.4" width="2.9" height="0.9" fill="#fff" fill-opacity="0.45"/>
<line x1="445.40" y1="57.70" x2="445.40" y2="125.30" stroke="#00b050" stroke-width="1.4"/>
<circle cx="445.4" cy="54.7" r="2.9" fill="#fff" stroke="#00b050" stroke-width="1.9"/>
<line x1="498.20" y1="96.90" x2="498.20" y2="125.30" stroke="#00b050" stroke-width="1.4"/>
<circle cx="498.2" cy="93.9" r="2.9" fill="#fff" stroke="#00b050" stroke-width="1.9"/>
<line x1="551.20" y1="91.20" x2="551.20" y2="125.30" stroke="#00b050" stroke-width="1.4"/>
<circle cx="551.2" cy="88.2" r="2.9" fill="#fff" stroke="#00b050" stroke-width="1.9"/>
<line x1="604.00" y1="108.50" x2="604.00" y2="125.30" stroke="#00b050" stroke-width="1.4"/>
<circle cx="604.0" cy="105.5" r="2.9" fill="#fff" stroke="#00b050" stroke-width="1.9"/>
<line x1="658.10" y1="118.30" x2="658.10" y2="125.30" stroke="#00b050" stroke-width="1.4"/>
<circle cx="658.1" cy="115.3" r="2.9" fill="#fff" stroke="#00b050" stroke-width="1.9"/>
<polygon points="397.3,370.1 397.3,342.2 398.3,342.2 398.3,342.6 399.3,342.6 399.3,341.8 400.3,341.8 400.3,343.9 401.3,343.9 401.3,343.5 402.3,343.5 402.3,343.0 403.3,343.0 403.3,342.1 404.3,342.1 404.3,342.3 405.3,342.3 405.3,343.7 406.3,343.7 406.3,343.7 407.3,343.7 407.3,342.5 408.3,342.5 408.3,343.8 409.3,343.8 409.3,344.5 410.3,344.5 410.3,344.1 411.3,344.1 411.3,344.2 412.3,344.2 412.3,344.4 413.3,344.4 413.3,345.8 414.3,345.8 414.3,345.2 415.3,345.2 415.3,346.3 416.3,346.3 416.3,346.5 417.3,346.5 417.3,345.8 418.3,345.8 418.3,346.3 419.3,346.3 419.3,345.5 420.3,345.5 420.3,346.2 421.3,346.2 421.3,347.1 422.3,347.1 422.3,348.2 423.3,348.2 423.3,349.7 424.3,349.7 424.3,349.5 425.3,349.5 425.3,349.7 426.3,349.7 426.3,350.1 427.3,350.1 427.3,351.4 428.3,351.4 428.3,351.1 429.3,351.1 429.3,350.2 430.3,350.2 430.3,350.7 431.3,350.7 431.3,351.8 432.3,351.8 432.3,351.3 433.3,351.3 433.3,349.1 434.3,349.1 434.3,353.1 435.3,353.1 435.3,352.9 436.3,352.9 436.3,351.5 437.3,351.5 437.3,354.0 438.3,354.0 438.3,352.9 439.3,352.9 439.3,353.7 440.3,353.7 440.3,353.1 441.3,353.1 441.3,353.7 442.3,353.7 442.3,347.7 443.3,347.7 443.3,346.6 444.3,346.6 444.3,347.4 445.3,347.4 445.3,348.0 446.3,348.0 446.3,347.4 447.3,347.4 447.3,348.3 448.3,348.3 448.3,346.1 449.3,346.1 449.3,349.1 450.3,349.1 450.3,347.6 451.3,347.6 451.3,348.2 452.3,348.2 452.3,348.0 453.3,348.0 453.3,349.7 454.3,349.7 454.3,350.3 455.3,350.3 455.3,348.6 456.3,348.6 456.3,348.2 457.3,348.2 457.3,348.8 458.3,348.8 458.3,350.3 459.3,350.3 459.3,348.6 460.3,348.6 460.3,349.3 461.3,349.3 461.3,349.6 462.3,349.6 462.3,346.3 463.3,346.3 463.3,350.9 464.3,350.9 464.3,350.8 465.3,350.8 465.3,351.7 466.3,351.7 466.3,352.1 467.3,352.1 467.3,350.8 468.3,350.8 468.3,353.8 469.3,353.8 469.3,356.0 470.3,356.0 470.3,355.5 471.3,355.5 471.3,355.5 472.3,355.5 472.3,355.4 473.3,355.4 473.3,355.8 474.3,355.8 474.3,356.5 475.3,356.5 475.3,354.5 476.3,354.5 476.3,356.7 477.3,356.7 477.3,354.6 478.3,354.6 478.3,354.9 479.3,354.9 479.3,356.3 480.3,356.3 480.3,355.2 481.3,355.2 481.3,356.0 482.3,356.0 482.3,356.7 483.3,356.7 483.3,354.4 484.3,354.4 484.3,354.2 485.3,354.2 485.3,354.3 486.3,354.3 486.3,355.8 487.3,355.8 487.3,355.0 488.3,355.0 488.3,354.1 489.3,354.1 489.3,354.2 490.3,354.2 490.3,355.2 491.3,355.2 491.3,353.5 492.3,353.5 492.3,354.8 493.3,354.8 493.3,355.5 494.3,355.5 494.3,353.8 495.3,353.8 495.3,355.4 496.3,355.4 496.3,353.6 497.3,353.6 497.3,355.7 498.3,355.7 498.3,355.0 499.3,355.0 499.3,355.7 500.3,355.7 500.3,354.4 501.3,354.4 501.3,356.2 502.3,356.2 502.3,354.3 503.3,354.3 503.3,356.2 504.3,356.2 504.3,355.2 505.3,355.2 505.3,356.1 506.3,356.1 506.3,356.5 507.3,356.5 507.3,355.2 508.3,355.2 508.3,355.5 509.3,355.5 509.3,355.0 510.3,355.0 510.3,355.1 511.3,355.1 511.3,356.0 512.3,356.0 512.3,356.2 513.3,356.2 513.3,354.9 514.3,354.9 514.3,356.4 515.3,356.4 515.3,356.8 516.3,356.8 516.3,355.4 517.3,355.4 517.3,357.3 518.3,357.3 518.3,357.2 519.3,357.2 519.3,357.0 520.3,357.0 520.3,357.0 521.3,357.0 521.3,357.8 522.3,357.8 522.3,357.9 523.3,357.9 523.3,358.5 524.3,358.5 524.3,359.3 525.3,359.3 525.3,358.1 526.3,358.1 526.3,358.7 527.3,358.7 527.3,358.1 528.3,358.1 528.3,358.1 529.3,358.1 529.3,358.2 530.3,358.2 530.3,358.7 531.3,358.7 531.3,358.6 532.3,358.6 532.3,358.0 533.3,358.0 533.3,360.0 534.3,360.0 534.3,359.4 535.3,359.4 535.3,357.5 536.3,357.5 536.3,360.1 537.3,360.1 537.3,359.7 538.3,359.7 538.3,360.1 539.3,360.1 539.3,359.2 540.3,359.2 540.3,359.2 541.3,359.2 541.3,359.6 542.3,359.6 542.3,358.1 543.3,358.1 543.3,359.4 544.3,359.4 544.3,359.3 545.3,359.3 545.3,358.5 546.3,358.5 546.3,358.8 547.3,358.8 547.3,360.0 548.3,360.0 548.3,358.5 549.3,358.5 549.3,358.6 550.3,358.6 550.3,360.2 551.3,360.2 551.3,358.8 552.3,358.8 552.3,359.8 553.3,359.8 553.3,357.3 554.3,357.3 554.3,359.1 555.3,359.1 555.3,359.3 556.3,359.3 556.3,360.2 557.3,360.2 557.3,358.3 558.3,358.3 558.3,360.3 559.3,360.3 559.3,360.2 560.3,360.2 560.3,358.7 561.3,358.7 561.3,358.6 562.3,358.6 562.3,360.3 563.3,360.3 563.3,359.9 564.3,359.9 564.3,358.7 565.3,358.7 565.3,360.4 566.3,360.4 566.3,360.0 567.3,360.0 567.3,359.5 568.3,359.5 568.3,358.8 569.3,358.8 569.3,358.6 570.3,358.6 570.3,358.3 571.3,358.3 571.3,358.6 572.3,358.6 572.3,362.0 573.3,362.0 573.3,363.4 574.3,363.4 574.3,363.1 575.3,363.1 575.3,363.6 576.3,363.6 576.3,363.0 577.3,363.0 577.3,363.0 578.3,363.0 578.3,362.6 579.3,362.6 579.3,361.7 580.3,361.7 580.3,361.3 581.3,361.3 581.3,359.8 582.3,359.8 582.3,360.0 583.3,360.0 583.3,361.1 584.3,361.1 584.3,360.2 585.3,360.2 585.3,357.3 586.3,357.3 586.3,359.5 587.3,359.5 587.3,359.8 588.3,359.8 588.3,361.5 589.3,361.5 589.3,360.1 590.3,360.1 590.3,360.7 591.3,360.7 591.3,360.0 592.3,360.0 592.3,361.9 593.3,361.9 593.3,361.8 594.3,361.8 594.3,360.5 595.3,360.5 595.3,361.6 596.3,361.6 596.3,359.8 597.3,359.8 597.3,361.8 598.3,361.8 598.3,361.2 599.3,361.2 599.3,358.5 600.3,358.5 600.3,360.3 601.3,360.3 601.3,361.2 602.3,361.2 602.3,361.8 603.3,361.8 603.3,360.5 604.3,360.5 604.3,361.8 605.3,361.8 605.3,361.8 606.3,361.8 606.3,361.4 607.3,361.4 607.3,361.0 608.3,361.0 608.3,360.6 609.3,360.6 609.3,361.5 610.3,361.5 610.3,361.1 611.3,361.1 611.3,360.4 612.3,360.4 612.3,360.0 613.3,360.0 613.3,362.0 614.3,362.0 614.3,360.8 615.3,360.8 615.3,364.3 616.3,364.3 616.3,362.3 617.3,362.3 617.3,363.9 618.3,363.9 618.3,362.4 619.3,362.4 619.3,362.5 620.3,362.5 620.3,362.8 621.3,362.8 621.3,364.6 622.3,364.6 622.3,364.5 623.3,364.5 623.3,363.5 624.3,363.5 624.3,362.7 625.3,362.7 625.3,364.9 626.3,364.9 626.3,364.7 627.3,364.7 627.3,364.3 628.3,364.3 628.3,364.4 629.3,364.4 629.3,359.9 630.3,359.9 630.3,365.0 631.3,365.0 631.3,364.6 632.3,364.6 632.3,364.2 633.3,364.2 633.3,363.4 634.3,363.4 634.3,363.1 635.3,363.1 635.3,362.5 636.3,362.5 636.3,363.0 637.3,363.0 637.3,362.5 638.3,362.5 638.3,362.3 639.3,362.3 639.3,362.3 640.3,362.3 640.3,362.3 641.3,362.3 641.3,363.4 642.3,363.4 642.3,363.0 643.3,363.0 643.3,362.6 644.3,362.6 644.3,364.2 645.3,364.2 645.3,362.4 646.3,362.4 646.3,362.1 647.3,362.1 647.3,362.5 648.3,362.5 648.3,363.4 649.3,363.4 649.3,362.0 650.3,362.0 650.3,362.2 651.3,362.2 651.3,361.9 652.3,361.9 652.3,362.2 653.3,362.2 653.3,361.9 654.3,361.9 654.3,362.6 655.3,362.6 655.3,363.2 656.3,363.2 656.3,364.1 657.3,364.1 657.3,362.2 658.3,362.2 658.3,363.9 659.3,363.9 659.3,360.6 660.3,360.6 660.3,363.2 661.3,363.2 661.3,363.5 662.3,363.5 662.3,361.9 663.3,361.9 663.3,362.5 664.3,362.5 664.3,362.6 665.3,362.6 665.3,363.1 666.3,363.1 666.3,361.7 667.3,361.7 667.3,361.7 668.3,361.7 668.3,362.5 669.3,362.5 669.3,362.6 670.3,362.6 670.3,361.9 671.3,361.9 671.3,363.3 672.3,363.3 672.3,361.8 673.3,361.8 673.3,360.0 674.3,360.0 674.3,362.9 675.3,362.9 675.3,363.1 676.3,363.1 676.2,370.1" fill="#00b050"/>
<rect x="397.0" y="330.1" width="1.0" height="40" fill="#fff" fill-opacity="0.9"/>
<rect x="399.3" y="330.1" width="0.8" height="40" fill="#fff" fill-opacity="0.6"/>
<rect x="403.9" y="330.1" width="0.7" height="40" fill="#fff" fill-opacity="0.6"/>
<rect x="422.0" y="330.1" width="0.8" height="40" fill="#fff" fill-opacity="0.5"/>
<line x1="400.50" y1="314.40" x2="400.50" y2="365.10" stroke="#00b050" stroke-width="1"/>
<line x1="407.50" y1="333.30" x2="407.50" y2="365.10" stroke="#00b050" stroke-width="1"/>
<line x1="468.50" y1="345.30" x2="468.50" y2="365.10" stroke="#00b050" stroke-width="1"/>
<line x1="523.50" y1="353.70" x2="523.50" y2="365.10" stroke="#00b050" stroke-width="1"/>
<line x1="530.50" y1="353.70" x2="530.50" y2="365.10" stroke="#00b050" stroke-width="1"/>
<line x1="632.50" y1="359.50" x2="632.50" y2="365.10" stroke="#00b050" stroke-width="1"/>
<line x1="635.50" y1="359.50" x2="635.50" y2="365.10" stroke="#00b050" stroke-width="1"/>
<line x1="637.50" y1="359.50" x2="637.50" y2="365.10" stroke="#00b050" stroke-width="1"/>
<rect x="405.3" y="368.2" width="1.6" height="0.9" fill="#fff" fill-opacity="0.45"/>
<rect x="410.5" y="368.2" width="1.3" height="0.9" fill="#fff" fill-opacity="0.45"/>
<rect x="418.7" y="368.2" width="1.3" height="0.9" fill="#fff" fill-opacity="0.45"/>
<rect x="426.9" y="368.2" width="1.2" height="0.9" fill="#fff" fill-opacity="0.45"/>
<rect x="455.9" y="368.2" width="1.9" height="0.9" fill="#fff" fill-opacity="0.45"/>
<rect x="461.3" y="368.2" width="1.1" height="0.9" fill="#fff" fill-opacity="0.45"/>
<rect x="464.9" y="368.2" width="1.9" height="0.9" fill="#fff" fill-opacity="0.45"/>
<rect x="472.4" y="368.2" width="2.4" height="0.9" fill="#fff" fill-opacity="0.45"/>
<rect x="482.8" y="368.2" width="1.7" height="0.9" fill="#fff" fill-opacity="0.45"/>
<rect x="511.5" y="368.2" width="2.6" height="0.9" fill="#fff" fill-opacity="0.45"/>
<rect x="517.1" y="368.2" width="2.9" height="0.9" fill="#fff" fill-opacity="0.45"/>
<rect x="527.1" y="368.2" width="1.1" height="0.9" fill="#fff" fill-opacity="0.45"/>
<rect x="548.7" y="368.2" width="1.0" height="0.9" fill="#fff" fill-opacity="0.45"/>
<rect x="558.8" y="368.2" width="1.9" height="0.9" fill="#fff" fill-opacity="0.45"/>
<rect x="562.1" y="368.2" width="2.8" height="0.9" fill="#fff" fill-opacity="0.45"/>
<rect x="584.2" y="368.2" width="1.6" height="0.9" fill="#fff" fill-opacity="0.45"/>
<rect x="588.8" y="368.2" width="1.2" height="0.9" fill="#fff" fill-opacity="0.45"/>
<rect x="606.4" y="368.2" width="1.3" height="0.9" fill="#fff" fill-opacity="0.45"/>
<rect x="613.7" y="368.2" width="1.6" height="0.9" fill="#fff" fill-opacity="0.45"/>
<rect x="618.5" y="368.2" width="2.3" height="0.9" fill="#fff" fill-opacity="0.45"/>
<rect x="629.8" y="368.2" width="1.6" height="0.9" fill="#fff" fill-opacity="0.45"/>
<rect x="673.9" y="368.2" width="1.6" height="0.9" fill="#fff" fill-opacity="0.45"/>
<line x1="444.70" y1="293.70" x2="444.70" y2="362.10" stroke="#00b050" stroke-width="1.4"/>
<circle cx="444.7" cy="290.7" r="2.9" fill="#fff" stroke="#00b050" stroke-width="1.9"/>
<line x1="500.80" y1="350.10" x2="500.80" y2="362.10" stroke="#00b050" stroke-width="1.4"/>
<circle cx="500.8" cy="347.1" r="2.9" fill="#fff" stroke="#00b050" stroke-width="1.9"/>
<line x1="554.20" y1="333.10" x2="554.20" y2="362.10" stroke="#00b050" stroke-width="1.4"/>
<circle cx="554.2" cy="330.1" r="2.9" fill="#fff" stroke="#00b050" stroke-width="1.9"/>
<line x1="605.30" y1="344.60" x2="605.30" y2="362.10" stroke="#00b050" stroke-width="1.4"/>
<circle cx="605.3" cy="341.6" r="2.9" fill="#fff" stroke="#00b050" stroke-width="1.9"/>
<line x1="660.50" y1="356.70" x2="660.50" y2="362.10" stroke="#00b050" stroke-width="1.4"/>
<circle cx="660.5" cy="353.7" r="2.9" fill="#fff" stroke="#00b050" stroke-width="1.9"/>
<text x="44.7" y="19.8" font-size="14.5" text-anchor="end" >0.02</text>
<text x="36.0" y="78.2" font-size="14.5" text-anchor="end" >0</text>
<text x="41.2" y="138.0" font-size="14.5" text-anchor="end" >0.02</text>
<text x="47.2" y="156.2" font-size="14.5" text-anchor="middle" >0</text>
<text x="117.5" y="156.2" font-size="14.5" text-anchor="middle" >0.2</text>
<text x="187.6" y="156.2" font-size="14.5" text-anchor="middle" >0.4</text>
<text x="258" y="156.2" font-size="14.5" text-anchor="middle" >0.6</text>
<text x="328.1" y="156.2" font-size="14.5" text-anchor="middle" >0.8</text>
<text x="187.9" y="183.1" font-size="14.5" text-anchor="middle" >Time</text>
<text x="199.9" y="221.4" font-size="14.4" text-anchor="middle" >(a) Our time domain waveform</text>
<text transform="translate(9.9,72.4) rotate(-90)" font-size="14.5" text-anchor="middle">Amplitude</text>
<text x="48.5" y="256.9" font-size="14.5" text-anchor="end" >0.02</text>
<text x="40.6" y="315.0" font-size="14.5" text-anchor="end" >0</text>
<text x="45.4" y="375.0" font-size="14.5" text-anchor="end" >0.02</text>
<text x="51.4" y="393.6" font-size="14.5" text-anchor="middle" >0</text>
<text x="121.4" y="393.6" font-size="14.5" text-anchor="middle" >0.2</text>
<text x="191.8" y="393.6" font-size="14.5" text-anchor="middle" >0.4</text>
<text x="262" y="393.6" font-size="14.5" text-anchor="middle" >0.6</text>
<text x="332.2" y="393.6" font-size="14.5" text-anchor="middle" >0.8</text>
<text x="191.9" y="420.4" font-size="14.5" text-anchor="middle" >Time</text>
<text x="192.4" y="458.4" font-size="14.4" text-anchor="middle" >(c) Time domain waveform of K-SVD</text>
<text transform="translate(13.4,309.8) rotate(-90)" font-size="14.5" text-anchor="middle">Amplitude</text>
<text x="380.8" y="26.7" font-size="14.5" text-anchor="end" >4</text>
<text x="381.9" y="81.2" font-size="14.5" text-anchor="end" >2</text>
<text x="377.1" y="136.3" font-size="14.5" text-anchor="end" >0</text>
<text x="391.6" y="157.0" font-size="14.5" text-anchor="middle" >0</text>
<text x="515.7" y="156.8" font-size="14.5" text-anchor="middle" >4000</text>
<text x="666.6" y="154.4" font-size="14.5" text-anchor="middle" >8000</text>
<text x="539.8" y="180.4" font-size="14.5" text-anchor="middle" >Frequency</text>
<text x="531.9" y="218.7" font-size="14.4" text-anchor="middle" >(b) Our Square Baoluo Pu</text>
<text x="394.6" y="10.9" font-size="14" text-anchor="start" >×10</text>
<text x="416.5" y="6.6" font-size="9.5" text-anchor="start" >6</text>
<text transform="translate(360.2,74.5) rotate(-90)" font-size="14.5" text-anchor="middle">Amplitude</text>
<text x="384.6" y="263.6" font-size="14.5" text-anchor="end" >4</text>
<text x="385.8" y="318.3" font-size="14.5" text-anchor="end" >2</text>
<text x="380.9" y="372.9" font-size="14.5" text-anchor="end" >0</text>
<text x="395.7" y="394.0" font-size="14.5" text-anchor="middle" >0</text>
<text x="520.5" y="394.0" font-size="14.5" text-anchor="middle" >4000</text>
<text x="671.5" y="390.5" font-size="14.5" text-anchor="middle" >8000</text>
<text x="543.7" y="417.7" font-size="14.5" text-anchor="middle" >Frequency</text>
<text x="523.9" y="457.6" font-size="14.4" text-anchor="middle" >(d) Square Baoluo Pu of K-SVD</text>
<text x="397.6" y="247.7" font-size="14" text-anchor="start" >×103</text>
<text transform="translate(365.8,319.7) rotate(-90)" font-size="14.5" text-anchor="middle">Amplitude</text>
</svg>
</body></html>
